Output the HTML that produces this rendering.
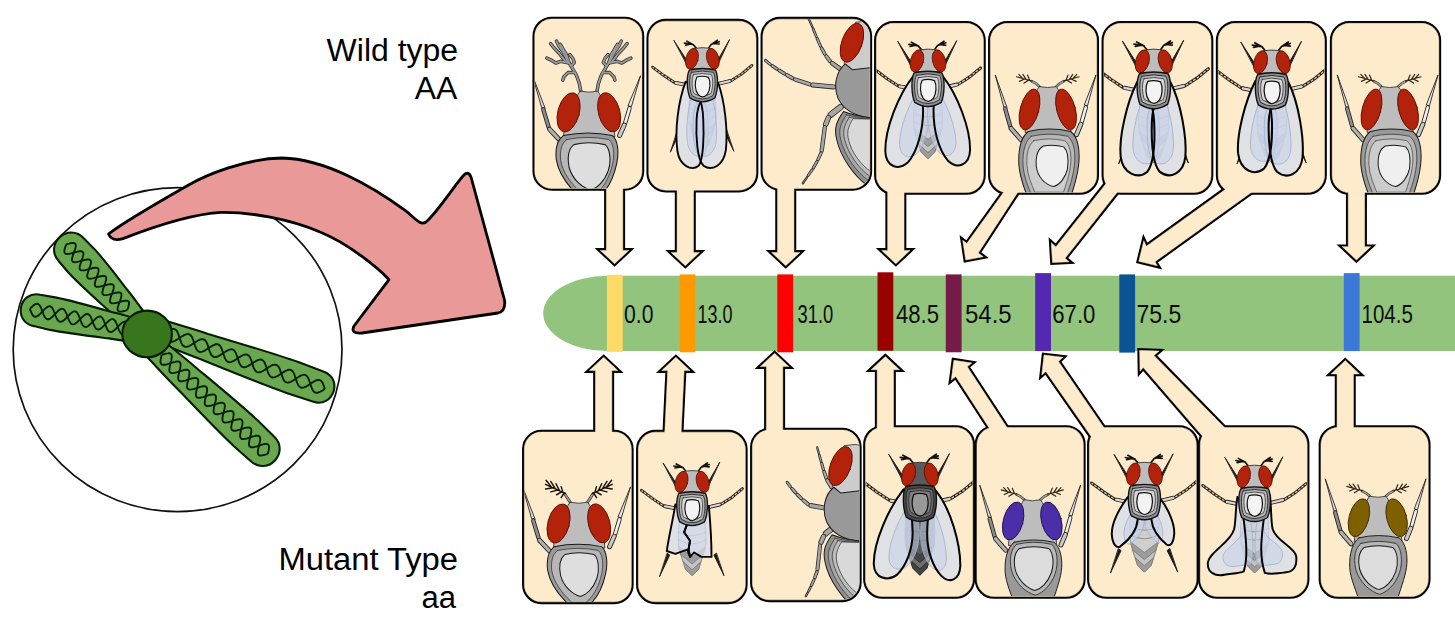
<!DOCTYPE html>
<html><head><meta charset="utf-8"><title>Chromosome map</title><style>html,body{margin:0;padding:0;background:#fff;overflow:hidden}svg{display:block}</style></head><body><svg width="1455" height="639" viewBox="0 0 1455 639">
<defs>
<clipPath id="c0"><path d="M551.75,19.15 L624.95,19.15 A16.8,16.8 0 0 1 641.75,35.95 L641.75,171.45 A16.8,16.8 0 0 1 624.95,188.25 L551.75,188.25 A16.8,16.8 0 0 1 534.95,171.45 L534.95,35.95 A16.8,16.8 0 0 1 551.75,19.15 Z"/></clipPath>
<clipPath id="c1"><path d="M665.75,21.35 L739.05,21.35 A16.8,16.8 0 0 1 755.85,38.15 L755.85,173.15 A16.8,16.8 0 0 1 739.05,189.95 L665.75,189.95 A16.8,16.8 0 0 1 648.95,173.15 L648.95,38.15 A16.8,16.8 0 0 1 665.75,21.35 Z"/></clipPath>
<clipPath id="c2"><path d="M779.85,19.35 L852.85,19.35 A16.8,16.8 0 0 1 869.65,36.15 L869.65,171.45 A16.8,16.8 0 0 1 852.85,188.25 L779.85,188.25 A16.8,16.8 0 0 1 763.05,171.45 L763.05,36.15 A16.8,16.8 0 0 1 779.85,19.35 Z"/></clipPath>
<clipPath id="c3"><path d="M893.35,23.55 L966.45,23.55 A16.8,16.8 0 0 1 983.25,40.35 L983.25,175.55 A16.8,16.8 0 0 1 966.45,192.35 L893.35,192.35 A16.8,16.8 0 0 1 876.55,175.55 L876.55,40.35 A16.8,16.8 0 0 1 893.35,23.55 Z"/></clipPath>
<clipPath id="c4"><path d="M1007.35,23.55 L1079.75,23.55 A16.8,16.8 0 0 1 1096.55,40.35 L1096.55,175.55 A16.8,16.8 0 0 1 1079.75,192.35 L1007.35,192.35 A16.8,16.8 0 0 1 990.55,175.55 L990.55,40.35 A16.8,16.8 0 0 1 1007.35,23.55 Z"/></clipPath>
<clipPath id="c5"><path d="M1120.85,23.55 L1194.05,23.55 A16.8,16.8 0 0 1 1210.85,40.35 L1210.85,175.55 A16.8,16.8 0 0 1 1194.05,192.35 L1120.85,192.35 A16.8,16.8 0 0 1 1104.05,175.55 L1104.05,40.35 A16.8,16.8 0 0 1 1120.85,23.55 Z"/></clipPath>
<clipPath id="c6"><path d="M1235.15,23.55 L1307.55,23.55 A16.8,16.8 0 0 1 1324.35,40.35 L1324.35,175.55 A16.8,16.8 0 0 1 1307.55,192.35 L1235.15,192.35 A16.8,16.8 0 0 1 1218.35,175.55 L1218.35,40.35 A16.8,16.8 0 0 1 1235.15,23.55 Z"/></clipPath>
<clipPath id="c7"><path d="M1349.15,23.55 L1421.85,23.55 A16.8,16.8 0 0 1 1438.65,40.35 L1438.65,175.55 A16.8,16.8 0 0 1 1421.85,192.35 L1349.15,192.35 A16.8,16.8 0 0 1 1332.35,175.55 L1332.35,40.35 A16.8,16.8 0 0 1 1349.15,23.55 Z"/></clipPath>
<clipPath id="c8"><path d="M541.35,432.25 L614.35,432.25 A16.8,16.8 0 0 1 631.15,449.05 L631.15,584.85 A16.8,16.8 0 0 1 614.35,601.65 L541.35,601.65 A16.8,16.8 0 0 1 524.55,584.85 L524.55,449.05 A16.8,16.8 0 0 1 541.35,432.25 Z"/></clipPath>
<clipPath id="c9"><path d="M655.35,432.35 L728.35,432.35 A16.8,16.8 0 0 1 745.15,449.15 L745.15,584.85 A16.8,16.8 0 0 1 728.35,601.65 L655.35,601.65 A16.8,16.8 0 0 1 638.55,584.85 L638.55,449.15 A16.8,16.8 0 0 1 655.35,432.35 Z"/></clipPath>
<clipPath id="c10"><path d="M769.35,430.25 L842.35,430.25 A16.8,16.8 0 0 1 859.15,447.05 L859.15,582.85 A16.8,16.8 0 0 1 842.35,599.65 L769.35,599.65 A16.8,16.8 0 0 1 752.55,582.85 L752.55,447.05 A16.8,16.8 0 0 1 769.35,430.25 Z"/></clipPath>
<clipPath id="c11"><path d="M882.45,427.65 L955.75,427.65 A16.8,16.8 0 0 1 972.55,444.45 L972.55,579.55 A16.8,16.8 0 0 1 955.75,596.35 L882.45,596.35 A16.8,16.8 0 0 1 865.65,579.55 L865.65,444.45 A16.8,16.8 0 0 1 882.45,427.65 Z"/></clipPath>
<clipPath id="c12"><path d="M993.95,427.65 L1066.35,427.65 A16.8,16.8 0 0 1 1083.15,444.45 L1083.15,579.55 A16.8,16.8 0 0 1 1066.35,596.35 L993.95,596.35 A16.8,16.8 0 0 1 977.15,579.55 L977.15,444.45 A16.8,16.8 0 0 1 993.95,427.65 Z"/></clipPath>
<clipPath id="c13"><path d="M1106.35,427.65 L1179.35,427.65 A16.8,16.8 0 0 1 1196.15,444.45 L1196.15,579.55 A16.8,16.8 0 0 1 1179.35,596.35 L1106.35,596.35 A16.8,16.8 0 0 1 1089.55,579.55 L1089.55,444.45 A16.8,16.8 0 0 1 1106.35,427.65 Z"/></clipPath>
<clipPath id="c14"><path d="M1217.25,427.65 L1290.15,427.65 A16.8,16.8 0 0 1 1306.95,444.45 L1306.95,579.55 A16.8,16.8 0 0 1 1290.15,596.35 L1217.25,596.35 A16.8,16.8 0 0 1 1200.45,579.55 L1200.45,444.45 A16.8,16.8 0 0 1 1217.25,427.65 Z"/></clipPath>
<clipPath id="c15"><path d="M1337.95,427.65 L1411.25,427.65 A16.8,16.8 0 0 1 1428.05,444.45 L1428.05,579.55 A16.8,16.8 0 0 1 1411.25,596.35 L1337.95,596.35 A16.8,16.8 0 0 1 1321.15,579.55 L1321.15,444.45 A16.8,16.8 0 0 1 1337.95,427.65 Z"/></clipPath>
</defs>
<ellipse cx="177.6" cy="349.6" rx="164.4" ry="162" fill="#fff" stroke="#111" stroke-width="1.7"/>
<g stroke="#081c04" stroke-width="2.1" fill="#6aa84f" stroke-linejoin="round">
<path d="M146.1,314.5 C138.8,305.3 133.3,296.9 127.0,289.5 C116.2,275.4 104.3,259.7 94.3,248.9 L84.0,238.5 C68.3,221.5 43.4,244.5 59.0,261.5 L68.6,272.7 C78.6,283.5 93.3,296.6 106.4,308.5 C113.4,315.4 121.3,321.4 129.9,329.5 Z"/>
<path d="M148.2,321.8 C135.2,318.5 124.6,315.2 113.8,312.6 C94.4,307.1 73.0,300.9 56.6,297.6 L40.2,294.7 C18.9,290.4 12.5,321.7 33.8,326.1 L50.1,329.9 C66.4,333.2 88.6,335.9 108.5,338.4 C119.5,340.3 130.6,341.4 143.8,343.4 Z"/>
<path d="M146.4,337.9 C166.3,345.6 182.7,352.6 199.4,358.8 C229.1,370.9 262.1,384.4 287.3,393.2 L312.7,401.6 C333.2,408.8 343.9,378.6 323.3,371.4 L298.3,362.1 C273.1,353.2 238.9,343.1 208.1,333.9 C191.2,328.4 174.0,323.6 153.6,317.1 Z"/>
<path d="M142.5,352.0 C155.3,365.3 165.4,376.9 176.4,387.7 C195.5,407.7 216.6,430.0 233.4,445.7 L250.6,461.0 C267.5,476.8 290.7,451.9 273.8,436.2 L257.3,420.1 C240.5,404.4 216.7,384.9 195.5,367.2 C183.9,357.1 171.6,347.8 157.5,336.0 Z"/>
</g>
<g stroke="#08200a" stroke-width="1.9" fill="none">
<path d="M127.1,310.2 L127.7,308.8 L128.2,307.4 L128.6,306.1 L128.9,304.8 L129.0,303.7 L129.0,302.8 L128.9,302.0 L128.5,301.4 L127.9,301.0 L127.1,300.7 L126.2,300.6 L125.1,300.7 L123.8,300.9 L122.5,301.2 L121.0,301.6 L119.5,302.0 L118.1,302.4 L116.6,302.8 L115.3,303.1 L114.0,303.3 L112.9,303.4 L111.9,303.3 L111.2,303.1 L110.6,302.6 L110.2,302.0 L110.0,301.2 L110.0,300.3 L110.2,299.2 L110.5,298.0 L110.9,296.6 L111.4,295.2 L111.9,293.8 L112.5,292.3 L112.9,290.9 L113.4,289.6 L113.7,288.4 L113.8,287.2 L113.8,286.3 L113.6,285.5 L113.3,284.9 L112.7,284.5 L111.9,284.2 L111.0,284.2 L109.9,284.2 L108.6,284.4 L107.2,284.7 L105.8,285.1 L104.3,285.5 L102.8,285.9 L101.4,286.3 L100.0,286.6 L98.8,286.8 L97.7,286.9 L96.7,286.8 L95.9,286.6 L95.4,286.2 L95.0,285.6 L94.8,284.8 L94.8,283.8 L95.0,282.7 L95.3,281.5 L95.7,280.1 L96.2,278.7 L96.7,277.3 L97.2,275.9 L97.7,274.4 L98.1,273.1 L98.4,271.9 L98.6,270.8 L98.6,269.8 L98.4,269.0 L98.0,268.4 L97.5,268.0 L96.7,267.8 L95.8,267.7 L94.6,267.8 L93.4,268.0 L92.0,268.3 L90.6,268.6 L89.1,269.1 L87.6,269.5 L86.2,269.8 L84.8,270.2 L83.6,270.4 L82.4,270.4 L81.5,270.4 L80.7,270.1 L80.2,269.7 L79.8,269.1 L79.6,268.3 L79.6,267.3 L79.8,266.2 L80.1,265.0 L80.5,263.7 L81.0,262.3 L81.5,260.8 L82.0,259.4 L82.5,258.0 L82.9,256.6 L83.2,255.4 L83.4,254.3 L83.4,253.3 L83.2,252.6 L82.8,252.0 L82.3,251.5 L81.5,251.3 L80.5,251.2 L79.4,251.3 L78.2,251.5 L76.8,251.8 L75.4,252.2 L73.9,252.6 L72.4,253.0 L71.0,253.4 L69.6,253.7 L68.3,253.9 L67.2,254.0 L66.3,253.9 L65.5,253.6 L64.9,253.2 L64.6,252.6 L64.4,251.8 L64.4,250.9 L64.5,249.8 L64.8,248.5 L65.3,247.2 L65.7,245.8 L66.3,244.3"/>
<path d="M127.1,310.2 L125.7,310.7 L124.2,311.0 L122.9,311.3 L121.6,311.5 L120.5,311.6 L119.5,311.5 L118.8,311.3 L118.2,310.9 L117.8,310.3 L117.6,309.5 L117.6,308.5 L117.8,307.4 L118.1,306.2 L118.5,304.9 L119.0,303.4 L119.5,302.0 L120.1,300.6 L120.6,299.2 L121.0,297.8 L121.3,296.6 L121.4,295.5 L121.4,294.5 L121.3,293.7 L120.9,293.1 L120.3,292.7 L119.5,292.5 L118.6,292.4 L117.5,292.5 L116.2,292.7 L114.8,293.0 L113.4,293.4 L111.9,293.8 L110.4,294.2 L109.0,294.6 L107.6,294.9 L106.4,295.1 L105.3,295.1 L104.3,295.1 L103.6,294.8 L103.0,294.4 L102.6,293.8 L102.4,293.0 L102.4,292.1 L102.6,291.0 L102.9,289.7 L103.3,288.4 L103.8,287.0 L104.3,285.5 L104.8,284.1 L105.3,282.7 L105.7,281.3 L106.1,280.1 L106.2,279.0 L106.2,278.1 L106.0,277.3 L105.7,276.7 L105.1,276.2 L104.3,276.0 L103.4,275.9 L102.2,276.0 L101.0,276.2 L99.6,276.5 L98.2,276.9 L96.7,277.3 L95.2,277.7 L93.8,278.1 L92.4,278.4 L91.2,278.6 L90.1,278.7 L89.1,278.6 L88.3,278.3 L87.8,277.9 L87.4,277.3 L87.2,276.5 L87.2,275.6 L87.4,274.5 L87.7,273.2 L88.1,271.9 L88.6,270.5 L89.1,269.1 L89.6,267.6 L90.1,266.2 L90.5,264.9 L90.8,263.6 L91.0,262.5 L91.0,261.6 L90.8,260.8 L90.4,260.2 L89.9,259.8 L89.1,259.5 L88.1,259.4 L87.0,259.5 L85.8,259.7 L84.4,260.0 L83.0,260.4 L81.5,260.8 L80.0,261.2 L78.6,261.6 L77.2,261.9 L76.0,262.1 L74.8,262.2 L73.9,262.1 L73.1,261.9 L72.5,261.4 L72.2,260.8 L72.0,260.1 L72.0,259.1 L72.2,258.0 L72.5,256.8 L72.9,255.4 L73.4,254.0 L73.9,252.6 L74.4,251.1 L74.9,249.7 L75.3,248.4 L75.6,247.2 L75.8,246.1 L75.8,245.1 L75.6,244.3 L75.2,243.7 L74.6,243.3 L73.9,243.0 L72.9,243.0 L71.8,243.0 L70.6,243.2 L69.2,243.6 L67.8,243.9 L66.3,244.3"/>
<path d="M130.3,329.4 L129.8,328.0 L129.3,326.6 L128.7,325.3 L128.1,324.2 L127.5,323.2 L126.8,322.5 L126.1,321.9 L125.4,321.7 L124.6,321.6 L123.7,321.8 L122.8,322.3 L121.8,322.9 L120.9,323.7 L119.8,324.7 L118.8,325.7 L117.8,326.8 L116.7,328.0 L115.7,329.0 L114.7,330.0 L113.7,330.8 L112.7,331.4 L111.8,331.9 L111.0,332.1 L110.2,332.0 L109.4,331.8 L108.7,331.2 L108.0,330.5 L107.4,329.5 L106.8,328.4 L106.3,327.1 L105.7,325.7 L105.2,324.3 L104.7,322.9 L104.1,321.5 L103.6,320.2 L103.0,319.1 L102.4,318.1 L101.7,317.4 L101.0,316.8 L100.3,316.5 L99.4,316.5 L98.6,316.7 L97.7,317.2 L96.7,317.8 L95.7,318.6 L94.7,319.6 L93.7,320.6 L92.7,321.7 L91.6,322.8 L90.6,323.9 L89.6,324.8 L88.6,325.7 L87.6,326.3 L86.7,326.8 L85.9,327.0 L85.1,326.9 L84.3,326.6 L83.6,326.1 L82.9,325.4 L82.3,324.4 L81.7,323.3 L81.2,322.0 L80.6,320.6 L80.1,319.2 L79.6,317.8 L79.0,316.4 L78.5,315.1 L77.9,314.0 L77.3,313.0 L76.6,312.2 L75.9,311.7 L75.1,311.4 L74.3,311.4 L73.5,311.6 L72.6,312.0 L71.6,312.7 L70.6,313.5 L69.6,314.5 L68.6,315.5 L67.5,316.6 L66.5,317.7 L65.5,318.8 L64.5,319.7 L63.5,320.6 L62.5,321.2 L61.6,321.6 L60.8,321.8 L60.0,321.8 L59.2,321.5 L58.5,321.0 L57.8,320.2 L57.2,319.3 L56.6,318.1 L56.1,316.9 L55.5,315.5 L55.0,314.1 L54.5,312.6 L53.9,311.3 L53.4,310.0 L52.8,308.9 L52.2,307.9 L51.5,307.1 L50.8,306.6 L50.0,306.3 L49.2,306.3 L48.4,306.5 L47.5,306.9 L46.5,307.6 L45.5,308.4 L44.5,309.4 L43.5,310.4 L42.4,311.5 L41.4,312.6 L40.4,313.7 L39.4,314.6 L38.4,315.4 L37.4,316.1 L36.5,316.5 L35.7,316.7 L34.8,316.7 L34.1,316.4 L33.4,315.9 L32.7,315.1 L32.1,314.2 L31.5,313.0 L31.0,311.7 L30.4,310.4 L29.9,309.0"/>
<path d="M130.3,329.4 L129.3,330.5 L128.2,331.6 L127.2,332.5 L126.3,333.3 L125.3,334.0 L124.4,334.4 L123.5,334.6 L122.7,334.6 L122.0,334.3 L121.3,333.8 L120.6,333.0 L120.0,332.1 L119.4,330.9 L118.8,329.6 L118.3,328.3 L117.8,326.8 L117.2,325.4 L116.7,324.1 L116.1,322.8 L115.6,321.6 L114.9,320.7 L114.3,319.9 L113.6,319.4 L112.8,319.1 L112.0,319.1 L111.1,319.3 L110.2,319.7 L109.3,320.4 L108.3,321.2 L107.3,322.1 L106.3,323.2 L105.2,324.3 L104.2,325.4 L103.1,326.4 L102.1,327.4 L101.1,328.2 L100.2,328.9 L99.3,329.3 L98.4,329.5 L97.6,329.5 L96.9,329.2 L96.1,328.7 L95.5,327.9 L94.9,326.9 L94.3,325.8 L93.7,324.5 L93.2,323.2 L92.7,321.7 L92.1,320.3 L91.6,318.9 L91.0,317.7 L90.5,316.5 L89.8,315.6 L89.2,314.8 L88.5,314.3 L87.7,314.0 L86.9,314.0 L86.0,314.2 L85.1,314.6 L84.2,315.2 L83.2,316.1 L82.2,317.0 L81.1,318.1 L80.1,319.2 L79.1,320.3 L78.0,321.3 L77.0,322.3 L76.0,323.1 L75.1,323.8 L74.2,324.2 L73.3,324.4 L72.5,324.4 L71.8,324.1 L71.0,323.6 L70.4,322.8 L69.8,321.8 L69.2,320.7 L68.6,319.4 L68.1,318.0 L67.5,316.6 L67.0,315.2 L66.5,313.8 L65.9,312.5 L65.3,311.4 L64.7,310.4 L64.1,309.7 L63.3,309.2 L62.6,308.9 L61.8,308.8 L60.9,309.0 L60.0,309.5 L59.1,310.1 L58.1,311.0 L57.1,311.9 L56.0,313.0 L55.0,314.1 L54.0,315.2 L52.9,316.2 L51.9,317.2 L50.9,318.0 L50.0,318.6 L49.1,319.1 L48.2,319.3 L47.4,319.3 L46.6,319.0 L45.9,318.4 L45.3,317.7 L44.6,316.7 L44.1,315.6 L43.5,314.3 L43.0,312.9 L42.4,311.5 L41.9,310.1 L41.4,308.7 L40.8,307.4 L40.2,306.3 L39.6,305.3 L38.9,304.6 L38.2,304.0 L37.5,303.8 L36.7,303.7 L35.8,303.9 L34.9,304.4 L34.0,305.0 L33.0,305.8 L32.0,306.8 L30.9,307.8 L29.9,309.0"/>
<path d="M165.1,332.8 L165.6,334.3 L166.1,335.8 L166.6,337.2 L167.2,338.5 L167.8,339.6 L168.5,340.5 L169.3,341.1 L170.2,341.6 L171.1,341.8 L172.2,341.7 L173.3,341.5 L174.4,341.0 L175.7,340.4 L177.0,339.6 L178.3,338.8 L179.6,337.9 L181.0,337.0 L182.3,336.2 L183.6,335.4 L184.8,334.8 L186.0,334.3 L187.1,334.1 L188.1,334.0 L189.1,334.2 L189.9,334.7 L190.7,335.3 L191.4,336.2 L192.1,337.3 L192.6,338.6 L193.2,340.0 L193.7,341.5 L194.1,343.0 L194.6,344.5 L195.1,346.0 L195.7,347.4 L196.2,348.7 L196.9,349.8 L197.6,350.7 L198.4,351.3 L199.2,351.8 L200.2,352.0 L201.2,351.9 L202.3,351.7 L203.5,351.2 L204.7,350.6 L206.0,349.8 L207.3,349.0 L208.7,348.1 L210.0,347.2 L211.3,346.4 L212.6,345.6 L213.8,345.0 L215.0,344.5 L216.1,344.3 L217.2,344.2 L218.1,344.4 L219.0,344.9 L219.8,345.5 L220.5,346.4 L221.1,347.5 L221.7,348.8 L222.2,350.2 L222.7,351.7 L223.2,353.2 L223.7,354.7 L224.2,356.2 L224.7,357.6 L225.3,358.9 L225.9,360.0 L226.6,360.9 L227.4,361.5 L228.3,362.0 L229.2,362.2 L230.2,362.1 L231.4,361.9 L232.5,361.4 L233.8,360.8 L235.1,360.0 L236.4,359.2 L237.7,358.3 L239.0,357.4 L240.4,356.6 L241.6,355.8 L242.9,355.2 L244.1,354.7 L245.2,354.5 L246.2,354.4 L247.2,354.6 L248.0,355.1 L248.8,355.7 L249.5,356.6 L250.2,357.7 L250.7,359.0 L251.3,360.4 L251.8,361.9 L252.2,363.4 L252.7,364.9 L253.2,366.4 L253.7,367.8 L254.3,369.1 L255.0,370.2 L255.7,371.1 L256.4,371.7 L257.3,372.2 L258.3,372.4 L259.3,372.3 L260.4,372.1 L261.6,371.6 L262.8,371.0 L264.1,370.2 L265.4,369.4 L266.8,368.5 L268.1,367.6 L269.4,366.8 L270.7,366.0 L271.9,365.4 L273.1,364.9 L274.2,364.7 L275.3,364.6 L276.2,364.8 L277.1,365.3 L277.9,365.9 L278.6,366.8 L279.2,367.9 L279.8,369.2 L280.3,370.6 L280.8,372.1 L281.3,373.6 L281.8,375.1 L282.3,376.6 L282.8,378.0 L283.4,379.3 L284.0,380.4 L284.7,381.3 L285.5,381.9 L286.4,382.4 L287.3,382.6 L288.3,382.5 L289.4,382.3 L290.6,381.8 L291.9,381.2 L293.2,380.5 L294.5,379.6 L295.8,378.7 L297.1,377.8 L298.5,377.0 L299.7,376.2 L301.0,375.6 L302.2,375.1 L303.3,374.9 L304.3,374.8 L305.3,375.0 L306.1,375.5 L306.9,376.1 L307.6,377.0 L308.2,378.1 L308.8,379.4 L309.3,380.8 L309.8,382.3 L310.3,383.8 L310.8,385.3 L311.3,386.8 L311.8,388.2 L312.4,389.5 L313.0,390.6 L313.8,391.5 L314.5,392.1 L315.4,392.6 L316.4,392.8 L317.4,392.7 L318.5,392.5 L319.7,392.0 L320.9,391.4 L322.2,390.7 L323.5,389.8 L324.8,388.9"/>
<path d="M165.1,332.8 L166.4,331.9 L167.7,331.1 L169.0,330.3 L170.3,329.7 L171.5,329.2 L172.6,329.0 L173.6,328.9 L174.5,329.1 L175.4,329.6 L176.2,330.2 L176.9,331.1 L177.5,332.2 L178.1,333.5 L178.6,334.9 L179.1,336.4 L179.6,337.9 L180.1,339.4 L180.6,340.9 L181.1,342.3 L181.7,343.6 L182.3,344.7 L183.0,345.6 L183.8,346.2 L184.7,346.7 L185.6,346.9 L186.7,346.8 L187.8,346.6 L189.0,346.1 L190.2,345.5 L191.5,344.7 L192.8,343.9 L194.1,343.0 L195.5,342.1 L196.8,341.3 L198.1,340.5 L199.3,339.9 L200.5,339.4 L201.6,339.2 L202.6,339.1 L203.6,339.3 L204.5,339.8 L205.2,340.4 L205.9,341.3 L206.6,342.4 L207.2,343.7 L207.7,345.1 L208.2,346.6 L208.7,348.1 L209.1,349.6 L209.6,351.1 L210.2,352.5 L210.7,353.8 L211.4,354.9 L212.1,355.8 L212.9,356.4 L213.7,356.9 L214.7,357.1 L215.7,357.0 L216.8,356.8 L218.0,356.3 L219.3,355.7 L220.5,354.9 L221.9,354.1 L223.2,353.2 L224.5,352.3 L225.8,351.5 L227.1,350.7 L228.4,350.1 L229.5,349.6 L230.7,349.4 L231.7,349.3 L232.6,349.5 L233.5,350.0 L234.3,350.6 L235.0,351.5 L235.6,352.6 L236.2,353.9 L236.7,355.3 L237.2,356.8 L237.7,358.3 L238.2,359.8 L238.7,361.3 L239.2,362.7 L239.8,364.0 L240.4,365.1 L241.1,366.0 L241.9,366.6 L242.8,367.1 L243.7,367.3 L244.8,367.2 L245.9,367.0 L247.1,366.5 L248.3,365.9 L249.6,365.1 L250.9,364.3 L252.2,363.4 L253.6,362.5 L254.9,361.7 L256.2,360.9 L257.4,360.3 L258.6,359.8 L259.7,359.6 L260.7,359.5 L261.7,359.7 L262.5,360.2 L263.3,360.8 L264.0,361.7 L264.7,362.8 L265.2,364.1 L265.8,365.5 L266.3,367.0 L266.8,368.5 L267.2,370.0 L267.7,371.5 L268.3,372.9 L268.8,374.2 L269.5,375.3 L270.2,376.2 L271.0,376.8 L271.8,377.3 L272.8,377.5 L273.8,377.4 L274.9,377.2 L276.1,376.7 L277.3,376.1 L278.6,375.4 L279.9,374.5 L281.3,373.6 L282.6,372.7 L283.9,371.9 L285.2,371.1 L286.5,370.5 L287.6,370.0 L288.7,369.8 L289.8,369.7 L290.7,369.9 L291.6,370.4 L292.4,371.0 L293.1,371.9 L293.7,373.0 L294.3,374.3 L294.8,375.7 L295.3,377.2 L295.8,378.7 L296.3,380.2 L296.8,381.7 L297.3,383.1 L297.9,384.4 L298.5,385.5 L299.2,386.4 L300.0,387.0 L300.9,387.5 L301.8,387.7 L302.9,387.6 L304.0,387.4 L305.1,386.9 L306.4,386.3 L307.7,385.6 L309.0,384.7 L310.3,383.8 L311.7,382.9 L313.0,382.1 L314.3,381.3 L315.5,380.7 L316.7,380.2 L317.8,380.0 L318.8,379.9 L319.8,380.1 L320.6,380.6 L321.4,381.2 L322.1,382.1 L322.8,383.2 L323.3,384.5 L323.9,385.9 L324.4,387.4 L324.8,388.9"/>
<path d="M161.7,354.9 L161.3,356.4 L161.0,357.9 L160.7,359.3 L160.5,360.6 L160.5,361.7 L160.6,362.7 L160.9,363.5 L161.4,364.2 L162.0,364.6 L162.8,364.8 L163.8,364.8 L165.0,364.7 L166.2,364.5 L167.6,364.1 L169.1,363.6 L170.5,363.2 L172.0,362.7 L173.5,362.2 L174.9,361.9 L176.1,361.6 L177.3,361.5 L178.3,361.5 L179.1,361.7 L179.7,362.2 L180.2,362.8 L180.5,363.6 L180.6,364.6 L180.6,365.7 L180.4,367.0 L180.1,368.4 L179.8,369.9 L179.4,371.4 L179.0,372.9 L178.7,374.4 L178.4,375.8 L178.2,377.1 L178.2,378.2 L178.3,379.2 L178.6,380.0 L179.0,380.6 L179.7,381.1 L180.5,381.3 L181.5,381.3 L182.6,381.2 L183.9,380.9 L185.3,380.6 L186.8,380.1 L188.2,379.6 L189.7,379.2 L191.2,378.7 L192.5,378.3 L193.8,378.1 L195.0,378.0 L196.0,378.0 L196.8,378.2 L197.4,378.6 L197.9,379.3 L198.2,380.1 L198.3,381.1 L198.2,382.2 L198.1,383.5 L197.8,384.9 L197.5,386.4 L197.1,387.9 L196.7,389.4 L196.4,390.9 L196.1,392.3 L195.9,393.6 L195.9,394.7 L196.0,395.7 L196.3,396.5 L196.7,397.1 L197.4,397.6 L198.2,397.8 L199.2,397.8 L200.3,397.7 L201.6,397.4 L203.0,397.1 L204.4,396.6 L205.9,396.1 L207.4,395.7 L208.9,395.2 L210.2,394.8 L211.5,394.6 L212.7,394.5 L213.7,394.5 L214.5,394.7 L215.1,395.1 L215.6,395.8 L215.9,396.6 L216.0,397.5 L215.9,398.7 L215.8,400.0 L215.5,401.4 L215.1,402.9 L214.8,404.4 L214.4,405.9 L214.0,407.4 L213.8,408.8 L213.6,410.1 L213.6,411.2 L213.7,412.2 L214.0,413.0 L214.4,413.6 L215.1,414.0 L215.9,414.3 L216.9,414.3 L218.0,414.2 L219.3,413.9 L220.7,413.6 L222.1,413.1 L223.6,412.6 L225.1,412.1 L226.5,411.7 L227.9,411.3 L229.2,411.1 L230.3,410.9 L231.3,411.0 L232.2,411.2 L232.8,411.6 L233.3,412.2 L233.5,413.0 L233.7,414.0 L233.6,415.2 L233.4,416.5 L233.2,417.9 L232.8,419.4 L232.5,420.9 L232.1,422.4 L231.7,423.9 L231.5,425.3 L231.3,426.6 L231.3,427.7 L231.4,428.7 L231.6,429.5 L232.1,430.1 L232.7,430.5 L233.6,430.8 L234.6,430.8 L235.7,430.7 L237.0,430.4 L238.4,430.0 L239.8,429.6 L241.3,429.1 L242.8,428.6 L244.2,428.2 L245.6,427.8 L246.9,427.6 L248.0,427.4 L249.0,427.5 L249.9,427.7 L250.5,428.1 L251.0,428.7 L251.2,429.5 L251.3,430.5 L251.3,431.7 L251.1,433.0 L250.9,434.4 L250.5,435.8 L250.1,437.4 L249.8,438.9 L249.4,440.4 L249.2,441.8 L249.0,443.0 L248.9,444.2 L249.1,445.2 L249.3,446.0 L249.8,446.6 L250.4,447.0 L251.3,447.2 L252.3,447.3 L253.4,447.2 L254.7,446.9 L256.1,446.5 L257.5,446.1 L259.0,445.6 L260.5,445.1 L261.9,444.7 L263.3,444.3 L264.6,444.0 L265.7,443.9 L266.7,444.0 L267.5,444.2 L268.2,444.6 L268.6,445.2 L268.9,446.0 L269.0,447.0 L269.0,448.2 L268.8,449.5 L268.6,450.9 L268.2,452.3 L267.8,453.9"/>
<path d="M161.7,354.9 L163.2,354.4 L164.6,354.0 L166.0,353.6 L167.3,353.4 L168.4,353.2 L169.4,353.3 L170.3,353.5 L170.9,353.9 L171.4,354.5 L171.6,355.3 L171.8,356.3 L171.7,357.5 L171.5,358.8 L171.3,360.2 L170.9,361.6 L170.5,363.2 L170.2,364.7 L169.8,366.1 L169.6,367.5 L169.4,368.8 L169.3,370.0 L169.5,371.0 L169.7,371.8 L170.2,372.4 L170.8,372.8 L171.7,373.0 L172.7,373.1 L173.8,373.0 L175.1,372.7 L176.5,372.3 L177.9,371.9 L179.4,371.4 L180.9,370.9 L182.3,370.5 L183.7,370.1 L185.0,369.8 L186.1,369.7 L187.1,369.8 L187.9,370.0 L188.6,370.4 L189.0,371.0 L189.3,371.8 L189.4,372.8 L189.4,374.0 L189.2,375.3 L189.0,376.7 L188.6,378.1 L188.2,379.6 L187.9,381.2 L187.5,382.6 L187.2,384.0 L187.1,385.3 L187.0,386.5 L187.1,387.5 L187.4,388.3 L187.9,388.9 L188.5,389.3 L189.4,389.5 L190.3,389.6 L191.5,389.4 L192.8,389.2 L194.1,388.8 L195.6,388.4 L197.1,387.9 L198.6,387.4 L200.0,387.0 L201.4,386.6 L202.7,386.3 L203.8,386.2 L204.8,386.3 L205.6,386.5 L206.3,386.9 L206.7,387.5 L207.0,388.3 L207.1,389.3 L207.1,390.5 L206.9,391.7 L206.6,393.1 L206.3,394.6 L205.9,396.1 L205.5,397.6 L205.2,399.1 L204.9,400.5 L204.8,401.8 L204.7,403.0 L204.8,404.0 L205.1,404.8 L205.6,405.4 L206.2,405.8 L207.0,406.0 L208.0,406.1 L209.2,405.9 L210.5,405.7 L211.8,405.3 L213.3,404.9 L214.8,404.4 L216.3,403.9 L217.7,403.5 L219.1,403.1 L220.4,402.8 L221.5,402.7 L222.5,402.7 L223.3,403.0 L224.0,403.4 L224.4,404.0 L224.7,404.8 L224.8,405.8 L224.8,406.9 L224.6,408.2 L224.3,409.6 L224.0,411.1 L223.6,412.6 L223.2,414.1 L222.9,415.6 L222.6,417.0 L222.4,418.3 L222.4,419.5 L222.5,420.4 L222.8,421.3 L223.3,421.9 L223.9,422.3 L224.7,422.5 L225.7,422.6 L226.9,422.4 L228.1,422.2 L229.5,421.8 L231.0,421.4 L232.5,420.9 L233.9,420.4 L235.4,419.9 L236.8,419.6 L238.0,419.3 L239.2,419.2 L240.2,419.2 L241.0,419.5 L241.7,419.9 L242.1,420.5 L242.4,421.3 L242.5,422.3 L242.5,423.4 L242.3,424.7 L242.0,426.1 L241.7,427.6 L241.3,429.1 L240.9,430.6 L240.6,432.1 L240.3,433.5 L240.1,434.8 L240.1,435.9 L240.2,436.9 L240.5,437.7 L240.9,438.4 L241.6,438.8 L242.4,439.0 L243.4,439.0 L244.6,438.9 L245.8,438.7 L247.2,438.3 L248.7,437.8 L250.1,437.4 L251.6,436.9 L253.1,436.4 L254.5,436.1 L255.7,435.8 L256.9,435.7 L257.9,435.7 L258.7,435.9 L259.3,436.4 L259.8,437.0 L260.1,437.8 L260.2,438.8 L260.2,439.9 L260.0,441.2 L259.7,442.6 L259.4,444.1 L259.0,445.6 L258.6,447.1 L258.3,448.6 L258.0,450.0 L257.8,451.3 L257.8,452.4 L257.9,453.4 L258.2,454.2 L258.6,454.8 L259.3,455.3 L260.1,455.5 L261.1,455.5 L262.2,455.4 L263.5,455.1 L264.9,454.8 L266.3,454.3 L267.8,453.9"/>
</g>
<ellipse cx="147.1" cy="333.9" rx="24.8" ry="23.3" fill="#38761d" stroke="#081c04" stroke-width="2.1"/>
<path d="M108.5,234 C120,225 150,207 188.6,185 C205,175.5 245,158.5 282,158 C325,159 372,186 405.5,210.7 C415,218 420,226 426,222 C436,214 455,185 463,176 Q468,170 471,177 L504.5,300 Q506,311 498,313 L362,333 Q350,334 354,326 L389,279.7 C380,270 350,244 320,232 C290,219 250,212 221.5,212.3 C190,214 150,228 122.9,238.6 Q112,242 108.5,234 Z" fill="#ea9999" stroke="#000" stroke-width="2.8" stroke-linejoin="round"/>
<g font-family="Liberation Sans, sans-serif" font-size="31" fill="#000">
<text x="326.6" y="61.2" textLength="131.5" lengthAdjust="spacingAndGlyphs">Wild type</text>
<text x="414.8" y="99.2" textLength="42.6" lengthAdjust="spacingAndGlyphs">AA</text>
<text x="278.4" y="569.7" textLength="179.6" lengthAdjust="spacingAndGlyphs">Mutant Type</text>
<text x="421.4" y="607.6" textLength="34.6" lengthAdjust="spacingAndGlyphs">aa</text>
</g>
<path d="M1455,275.8 L607.5,275.8 A64.3,37.65 0 0 0 607.5,351.1 L1455,351.1 Z" fill="#93c47d"/>
<rect x="606.9" y="274.8" width="15.8" height="77.1" fill="#ffd966"/>
<rect x="679.7" y="274.4" width="15.8" height="77.9" fill="#ff9900"/>
<rect x="777.3" y="274.4" width="15.8" height="77.9" fill="#ff0000"/>
<rect x="877.5" y="272.3" width="15.8" height="78.4" fill="#990000"/>
<rect x="945.8" y="274.4" width="15.8" height="77.9" fill="#741b47"/>
<rect x="1035.2" y="273.1" width="15.8" height="78.0" fill="#5428b0"/>
<rect x="1119.3" y="274.4" width="15.8" height="78.2" fill="#0b5394"/>
<rect x="1343.8" y="273.1" width="15.8" height="78.0" fill="#3c78d8"/>
<g font-family="Liberation Sans, sans-serif" font-size="26" fill="#0c0c0c">
<text x="624" y="323.4" textLength="29.4" lengthAdjust="spacingAndGlyphs">0.0</text>
<text x="697.4" y="323.4" textLength="35.0" lengthAdjust="spacingAndGlyphs">13.0</text>
<text x="797.5" y="323.4" textLength="35.8" lengthAdjust="spacingAndGlyphs">31.0</text>
<text x="895.9" y="323.4" textLength="43.1" lengthAdjust="spacingAndGlyphs">48.5</text>
<text x="965" y="323.4" textLength="46.6" lengthAdjust="spacingAndGlyphs">54.5</text>
<text x="1052.3" y="323.4" textLength="43.1" lengthAdjust="spacingAndGlyphs">67.0</text>
<text x="1136.5" y="323.4" textLength="44.8" lengthAdjust="spacingAndGlyphs">75.5</text>
<text x="1361.5" y="323.4" textLength="51.3" lengthAdjust="spacingAndGlyphs">104.5</text>
</g>
<g stroke="#000" stroke-width="4.6" stroke-linejoin="miter" stroke-miterlimit="10" fill="#000">
<path d="M606.40,180.00 L606.40,250.40 L600.40,250.40 L614.60,263.70 L628.80,250.40 L622.80,250.40 L622.80,180.00 Z"/>
<path d="M677.10,180.00 L677.10,252.40 L671.10,252.40 L685.30,265.70 L699.50,252.40 L693.50,252.40 L693.50,180.00 Z"/>
<path d="M777.55,180.00 L777.55,252.40 L771.55,252.40 L785.75,265.70 L799.95,252.40 L793.95,252.40 L793.95,180.00 Z"/>
<path d="M887.65,185.00 L887.65,250.40 L881.65,250.40 L895.85,263.70 L910.05,250.40 L904.05,250.40 L904.05,185.00 Z"/>
<path d="M1006.90,187.69 L966.77,243.48 L962.73,240.34 L965.72,260.08 L983.25,256.64 L978.29,252.96 L1018.42,191.29 Z"/>
<path d="M1106.53,183.04 L1055.86,246.98 L1051.25,242.69 L1052.46,262.59 L1069.20,261.79 L1064.99,258.35 L1118.60,190.59 Z"/>
<path d="M1235.28,182.23 L1146.37,246.20 L1143.85,240.68 L1138.78,261.31 L1157.42,265.84 L1154.92,261.78 L1253.99,190.48 Z"/>
<path d="M1348.25,185.00 L1348.25,246.70 L1342.25,246.70 L1356.45,260.00 L1370.65,246.70 L1364.65,246.70 L1364.65,185.00 Z"/>
<path d="M595.45,440.00 L595.45,370.60 L589.45,370.60 L603.65,357.30 L617.85,370.60 L611.85,370.60 L611.85,440.00 Z"/>
<path d="M664.75,433.00 L667.70,370.60 L661.70,370.60 L675.90,357.30 L690.10,370.60 L684.10,370.60 L681.15,433.00 Z"/>
<path d="M766.40,440.00 L766.40,366.60 L760.40,366.60 L774.60,353.30 L788.80,366.60 L782.80,366.60 L782.80,440.00 Z"/>
<path d="M877.15,440.00 L877.15,369.80 L871.15,369.80 L885.35,356.50 L899.55,369.80 L893.55,369.80 L893.55,440.00 Z"/>
<path d="M993.93,435.21 L955.72,376.38 L951.25,380.09 L953.87,360.23 L971.84,363.00 L967.26,366.85 L1008.49,429.84 Z"/>
<path d="M1095.26,442.35 L1045.83,371.49 L1041.75,375.01 L1044.02,354.97 L1062.85,357.29 L1058.50,361.50 L1106.06,430.78 Z"/>
<path d="M1208.43,442.98 L1143.21,367.49 L1140.00,371.18 L1139.64,350.39 L1159.12,351.08 L1153.92,355.43 L1227.40,430.60 Z"/>
<path d="M1337.05,440.00 L1337.05,373.90 L1331.05,373.90 L1345.25,360.60 L1359.45,373.90 L1353.45,373.90 L1353.45,440.00 Z"/>
<path d="M551.75,18.95 L624.95,18.95 A17.0,17.0 0 0 1 641.95,35.95 L641.95,171.45 A17.0,17.0 0 0 1 624.95,188.45 L551.75,188.45 A17.0,17.0 0 0 1 534.75,171.45 L534.75,35.95 A17.0,17.0 0 0 1 551.75,18.95 Z"/>
<path d="M665.75,21.15 L739.05,21.15 A17.0,17.0 0 0 1 756.05,38.15 L756.05,173.15 A17.0,17.0 0 0 1 739.05,190.15 L665.75,190.15 A17.0,17.0 0 0 1 648.75,173.15 L648.75,38.15 A17.0,17.0 0 0 1 665.75,21.15 Z"/>
<path d="M779.85,19.15 L852.85,19.15 A17.0,17.0 0 0 1 869.85,36.15 L869.85,171.45 A17.0,17.0 0 0 1 852.85,188.45 L779.85,188.45 A17.0,17.0 0 0 1 762.85,171.45 L762.85,36.15 A17.0,17.0 0 0 1 779.85,19.15 Z"/>
<path d="M893.35,23.35 L966.45,23.35 A17.0,17.0 0 0 1 983.45,40.35 L983.45,175.55 A17.0,17.0 0 0 1 966.45,192.55 L893.35,192.55 A17.0,17.0 0 0 1 876.35,175.55 L876.35,40.35 A17.0,17.0 0 0 1 893.35,23.35 Z"/>
<path d="M1007.35,23.35 L1079.75,23.35 A17.0,17.0 0 0 1 1096.75,40.35 L1096.75,175.55 A17.0,17.0 0 0 1 1079.75,192.55 L1007.35,192.55 A17.0,17.0 0 0 1 990.35,175.55 L990.35,40.35 A17.0,17.0 0 0 1 1007.35,23.35 Z"/>
<path d="M1120.85,23.35 L1194.05,23.35 A17.0,17.0 0 0 1 1211.05,40.35 L1211.05,175.55 A17.0,17.0 0 0 1 1194.05,192.55 L1120.85,192.55 A17.0,17.0 0 0 1 1103.85,175.55 L1103.85,40.35 A17.0,17.0 0 0 1 1120.85,23.35 Z"/>
<path d="M1235.15,23.35 L1307.55,23.35 A17.0,17.0 0 0 1 1324.55,40.35 L1324.55,175.55 A17.0,17.0 0 0 1 1307.55,192.55 L1235.15,192.55 A17.0,17.0 0 0 1 1218.15,175.55 L1218.15,40.35 A17.0,17.0 0 0 1 1235.15,23.35 Z"/>
<path d="M1349.15,23.35 L1421.85,23.35 A17.0,17.0 0 0 1 1438.85,40.35 L1438.85,175.55 A17.0,17.0 0 0 1 1421.85,192.55 L1349.15,192.55 A17.0,17.0 0 0 1 1332.15,175.55 L1332.15,40.35 A17.0,17.0 0 0 1 1349.15,23.35 Z"/>
<path d="M541.35,432.05 L614.35,432.05 A17.0,17.0 0 0 1 631.35,449.05 L631.35,584.85 A17.0,17.0 0 0 1 614.35,601.85 L541.35,601.85 A17.0,17.0 0 0 1 524.35,584.85 L524.35,449.05 A17.0,17.0 0 0 1 541.35,432.05 Z"/>
<path d="M655.35,432.15 L728.35,432.15 A17.0,17.0 0 0 1 745.35,449.15 L745.35,584.85 A17.0,17.0 0 0 1 728.35,601.85 L655.35,601.85 A17.0,17.0 0 0 1 638.35,584.85 L638.35,449.15 A17.0,17.0 0 0 1 655.35,432.15 Z"/>
<path d="M769.35,430.05 L842.35,430.05 A17.0,17.0 0 0 1 859.35,447.05 L859.35,582.85 A17.0,17.0 0 0 1 842.35,599.85 L769.35,599.85 A17.0,17.0 0 0 1 752.35,582.85 L752.35,447.05 A17.0,17.0 0 0 1 769.35,430.05 Z"/>
<path d="M882.45,427.45 L955.75,427.45 A17.0,17.0 0 0 1 972.75,444.45 L972.75,579.55 A17.0,17.0 0 0 1 955.75,596.55 L882.45,596.55 A17.0,17.0 0 0 1 865.45,579.55 L865.45,444.45 A17.0,17.0 0 0 1 882.45,427.45 Z"/>
<path d="M993.95,427.45 L1066.35,427.45 A17.0,17.0 0 0 1 1083.35,444.45 L1083.35,579.55 A17.0,17.0 0 0 1 1066.35,596.55 L993.95,596.55 A17.0,17.0 0 0 1 976.95,579.55 L976.95,444.45 A17.0,17.0 0 0 1 993.95,427.45 Z"/>
<path d="M1106.35,427.45 L1179.35,427.45 A17.0,17.0 0 0 1 1196.35,444.45 L1196.35,579.55 A17.0,17.0 0 0 1 1179.35,596.55 L1106.35,596.55 A17.0,17.0 0 0 1 1089.35,579.55 L1089.35,444.45 A17.0,17.0 0 0 1 1106.35,427.45 Z"/>
<path d="M1217.25,427.45 L1290.15,427.45 A17.0,17.0 0 0 1 1307.15,444.45 L1307.15,579.55 A17.0,17.0 0 0 1 1290.15,596.55 L1217.25,596.55 A17.0,17.0 0 0 1 1200.25,579.55 L1200.25,444.45 A17.0,17.0 0 0 1 1217.25,427.45 Z"/>
<path d="M1337.95,427.45 L1411.25,427.45 A17.0,17.0 0 0 1 1428.25,444.45 L1428.25,579.55 A17.0,17.0 0 0 1 1411.25,596.55 L1337.95,596.55 A17.0,17.0 0 0 1 1320.95,579.55 L1320.95,444.45 A17.0,17.0 0 0 1 1337.95,427.45 Z"/>
</g>
<g fill="#fdebcb" stroke="#fdebcb" stroke-width="0.5">
<path d="M606.40,180.00 L606.40,250.40 L600.40,250.40 L614.60,263.70 L628.80,250.40 L622.80,250.40 L622.80,180.00 Z"/>
<path d="M677.10,180.00 L677.10,252.40 L671.10,252.40 L685.30,265.70 L699.50,252.40 L693.50,252.40 L693.50,180.00 Z"/>
<path d="M777.55,180.00 L777.55,252.40 L771.55,252.40 L785.75,265.70 L799.95,252.40 L793.95,252.40 L793.95,180.00 Z"/>
<path d="M887.65,185.00 L887.65,250.40 L881.65,250.40 L895.85,263.70 L910.05,250.40 L904.05,250.40 L904.05,185.00 Z"/>
<path d="M1006.90,187.69 L966.77,243.48 L962.73,240.34 L965.72,260.08 L983.25,256.64 L978.29,252.96 L1018.42,191.29 Z"/>
<path d="M1106.53,183.04 L1055.86,246.98 L1051.25,242.69 L1052.46,262.59 L1069.20,261.79 L1064.99,258.35 L1118.60,190.59 Z"/>
<path d="M1235.28,182.23 L1146.37,246.20 L1143.85,240.68 L1138.78,261.31 L1157.42,265.84 L1154.92,261.78 L1253.99,190.48 Z"/>
<path d="M1348.25,185.00 L1348.25,246.70 L1342.25,246.70 L1356.45,260.00 L1370.65,246.70 L1364.65,246.70 L1364.65,185.00 Z"/>
<path d="M595.45,440.00 L595.45,370.60 L589.45,370.60 L603.65,357.30 L617.85,370.60 L611.85,370.60 L611.85,440.00 Z"/>
<path d="M664.75,433.00 L667.70,370.60 L661.70,370.60 L675.90,357.30 L690.10,370.60 L684.10,370.60 L681.15,433.00 Z"/>
<path d="M766.40,440.00 L766.40,366.60 L760.40,366.60 L774.60,353.30 L788.80,366.60 L782.80,366.60 L782.80,440.00 Z"/>
<path d="M877.15,440.00 L877.15,369.80 L871.15,369.80 L885.35,356.50 L899.55,369.80 L893.55,369.80 L893.55,440.00 Z"/>
<path d="M993.93,435.21 L955.72,376.38 L951.25,380.09 L953.87,360.23 L971.84,363.00 L967.26,366.85 L1008.49,429.84 Z"/>
<path d="M1095.26,442.35 L1045.83,371.49 L1041.75,375.01 L1044.02,354.97 L1062.85,357.29 L1058.50,361.50 L1106.06,430.78 Z"/>
<path d="M1208.43,442.98 L1143.21,367.49 L1140.00,371.18 L1139.64,350.39 L1159.12,351.08 L1153.92,355.43 L1227.40,430.60 Z"/>
<path d="M1337.05,440.00 L1337.05,373.90 L1331.05,373.90 L1345.25,360.60 L1359.45,373.90 L1353.45,373.90 L1353.45,440.00 Z"/>
<path d="M551.75,18.95 L624.95,18.95 A17.0,17.0 0 0 1 641.95,35.95 L641.95,171.45 A17.0,17.0 0 0 1 624.95,188.45 L551.75,188.45 A17.0,17.0 0 0 1 534.75,171.45 L534.75,35.95 A17.0,17.0 0 0 1 551.75,18.95 Z"/>
<path d="M665.75,21.15 L739.05,21.15 A17.0,17.0 0 0 1 756.05,38.15 L756.05,173.15 A17.0,17.0 0 0 1 739.05,190.15 L665.75,190.15 A17.0,17.0 0 0 1 648.75,173.15 L648.75,38.15 A17.0,17.0 0 0 1 665.75,21.15 Z"/>
<path d="M779.85,19.15 L852.85,19.15 A17.0,17.0 0 0 1 869.85,36.15 L869.85,171.45 A17.0,17.0 0 0 1 852.85,188.45 L779.85,188.45 A17.0,17.0 0 0 1 762.85,171.45 L762.85,36.15 A17.0,17.0 0 0 1 779.85,19.15 Z"/>
<path d="M893.35,23.35 L966.45,23.35 A17.0,17.0 0 0 1 983.45,40.35 L983.45,175.55 A17.0,17.0 0 0 1 966.45,192.55 L893.35,192.55 A17.0,17.0 0 0 1 876.35,175.55 L876.35,40.35 A17.0,17.0 0 0 1 893.35,23.35 Z"/>
<path d="M1007.35,23.35 L1079.75,23.35 A17.0,17.0 0 0 1 1096.75,40.35 L1096.75,175.55 A17.0,17.0 0 0 1 1079.75,192.55 L1007.35,192.55 A17.0,17.0 0 0 1 990.35,175.55 L990.35,40.35 A17.0,17.0 0 0 1 1007.35,23.35 Z"/>
<path d="M1120.85,23.35 L1194.05,23.35 A17.0,17.0 0 0 1 1211.05,40.35 L1211.05,175.55 A17.0,17.0 0 0 1 1194.05,192.55 L1120.85,192.55 A17.0,17.0 0 0 1 1103.85,175.55 L1103.85,40.35 A17.0,17.0 0 0 1 1120.85,23.35 Z"/>
<path d="M1235.15,23.35 L1307.55,23.35 A17.0,17.0 0 0 1 1324.55,40.35 L1324.55,175.55 A17.0,17.0 0 0 1 1307.55,192.55 L1235.15,192.55 A17.0,17.0 0 0 1 1218.15,175.55 L1218.15,40.35 A17.0,17.0 0 0 1 1235.15,23.35 Z"/>
<path d="M1349.15,23.35 L1421.85,23.35 A17.0,17.0 0 0 1 1438.85,40.35 L1438.85,175.55 A17.0,17.0 0 0 1 1421.85,192.55 L1349.15,192.55 A17.0,17.0 0 0 1 1332.15,175.55 L1332.15,40.35 A17.0,17.0 0 0 1 1349.15,23.35 Z"/>
<path d="M541.35,432.05 L614.35,432.05 A17.0,17.0 0 0 1 631.35,449.05 L631.35,584.85 A17.0,17.0 0 0 1 614.35,601.85 L541.35,601.85 A17.0,17.0 0 0 1 524.35,584.85 L524.35,449.05 A17.0,17.0 0 0 1 541.35,432.05 Z"/>
<path d="M655.35,432.15 L728.35,432.15 A17.0,17.0 0 0 1 745.35,449.15 L745.35,584.85 A17.0,17.0 0 0 1 728.35,601.85 L655.35,601.85 A17.0,17.0 0 0 1 638.35,584.85 L638.35,449.15 A17.0,17.0 0 0 1 655.35,432.15 Z"/>
<path d="M769.35,430.05 L842.35,430.05 A17.0,17.0 0 0 1 859.35,447.05 L859.35,582.85 A17.0,17.0 0 0 1 842.35,599.85 L769.35,599.85 A17.0,17.0 0 0 1 752.35,582.85 L752.35,447.05 A17.0,17.0 0 0 1 769.35,430.05 Z"/>
<path d="M882.45,427.45 L955.75,427.45 A17.0,17.0 0 0 1 972.75,444.45 L972.75,579.55 A17.0,17.0 0 0 1 955.75,596.55 L882.45,596.55 A17.0,17.0 0 0 1 865.45,579.55 L865.45,444.45 A17.0,17.0 0 0 1 882.45,427.45 Z"/>
<path d="M993.95,427.45 L1066.35,427.45 A17.0,17.0 0 0 1 1083.35,444.45 L1083.35,579.55 A17.0,17.0 0 0 1 1066.35,596.55 L993.95,596.55 A17.0,17.0 0 0 1 976.95,579.55 L976.95,444.45 A17.0,17.0 0 0 1 993.95,427.45 Z"/>
<path d="M1106.35,427.45 L1179.35,427.45 A17.0,17.0 0 0 1 1196.35,444.45 L1196.35,579.55 A17.0,17.0 0 0 1 1179.35,596.55 L1106.35,596.55 A17.0,17.0 0 0 1 1089.35,579.55 L1089.35,444.45 A17.0,17.0 0 0 1 1106.35,427.45 Z"/>
<path d="M1217.25,427.45 L1290.15,427.45 A17.0,17.0 0 0 1 1307.15,444.45 L1307.15,579.55 A17.0,17.0 0 0 1 1290.15,596.55 L1217.25,596.55 A17.0,17.0 0 0 1 1200.25,579.55 L1200.25,444.45 A17.0,17.0 0 0 1 1217.25,427.45 Z"/>
<path d="M1337.95,427.45 L1411.25,427.45 A17.0,17.0 0 0 1 1428.25,444.45 L1428.25,579.55 A17.0,17.0 0 0 1 1411.25,596.55 L1337.95,596.55 A17.0,17.0 0 0 1 1320.95,579.55 L1320.95,444.45 A17.0,17.0 0 0 1 1337.95,427.45 Z"/>
</g>
<g clip-path="url(#c1)"><g transform="translate(702.4 46.9) scale(0.28986)" stroke-linejoin="round" stroke-linecap="round"><path d="M-47,72 L-41,66 L-98,-22Z M47,72 L41,66 L93,-24Z M-84,284 L-76,290 L-110,362Z M82,284 L74,290 L108,359Z" fill="#1a1a1a" stroke="#1a1a1a" stroke-width="3"/><path d="M-48,133 L-98,122 L-134,98 L-172,70" fill="none" stroke="#2a2118" stroke-width="10"/><path d="M-48,133 L-98,122 L-134,98 L-172,70" fill="none" stroke="#d2c6b0" stroke-width="4.2" stroke-linecap="butt" stroke-dasharray="9 4.5"/><path d="M48,129 L100,116 L136,93 L171,64" fill="none" stroke="#2a2118" stroke-width="10"/><path d="M48,129 L100,116 L136,93 L171,64" fill="none" stroke="#d2c6b0" stroke-width="4.2" stroke-linecap="butt" stroke-dasharray="9 4.5"/><path d="M-48,133 L-92,124" fill="none" stroke="#30281e" stroke-width="13" stroke-linecap="round" stroke-linejoin="round"/><path d="M-48,133 L-92,124" fill="none" stroke="#d5d5d5" stroke-width="7.5" stroke-linecap="round" stroke-linejoin="round"/><path d="M48,129 L94,118" fill="none" stroke="#30281e" stroke-width="13" stroke-linecap="round" stroke-linejoin="round"/><path d="M48,129 L94,118" fill="none" stroke="#d5d5d5" stroke-width="7.5" stroke-linecap="round" stroke-linejoin="round"/><path d="M-20,6 L-32,-8 L-62,-13 M-30,-7 L-54,-20 M-40,-10 L-58,-6 M20,6 L31,-9 L58,-18 M30,-8 L52,-23 M40,-12 L58,-10" stroke="#111" stroke-width="5.5" fill="none"/><path d="M-37,9 Q0,-4 37,9 L40,76 L-40,76Z" fill="#bdbdbd" stroke="#333" stroke-width="3"/><ellipse cx="-36" cy="41" rx="21" ry="37" transform="rotate(15 -36 41)" fill="#b3220a" stroke="#5b0f00" stroke-width="2.5"/><ellipse cx="36" cy="41" rx="21" ry="37" transform="rotate(-15 36 41)" fill="#b3220a" stroke="#5b0f00" stroke-width="2.5"/><path d="M-58,120 C-84,190 -96,290 -86,360 C-78,410 -38,430 -13,410 C3,390 6,310 3,250 C1,190 -18,140 -58,120Z" fill="#fdebcb"/><path d="M54,123 C78,190 88,290 81,355 C73,410 32,430 4,410 C-18,390 -23,310 -20,250 C-18,190 14,140 54,123Z" fill="#fdebcb"/><path d="M-42,170 C-48,200 -48,240 -45,264 L-22,338 L0,360 L22,338 L45,264 C48,240 48,200 42,170Z" fill="#cfcfcf" stroke="#7a7a7a" stroke-width="3"/><path d="M-45,262 L0,296 L45,262 L38,288 L0,320 L-38,288Z" fill="#9c9c9c" stroke="#7a7a7a" stroke-width="2.5"/><path d="M-38,288 L0,320 L38,288 L30,313 L0,340 L-30,313Z" fill="#c4c4c4" stroke="#7a7a7a" stroke-width="2.5"/><path d="M-30,313 L0,340 L30,313 L22,338 L0,360 L-22,338Z" fill="#9c9c9c" stroke="#7a7a7a" stroke-width="2.5"/><path d="M-46,212 Q0,236 46,212 M-47,238 Q0,266 47,238" fill="none" stroke="#7a7a7a" stroke-width="2.5"/><path d="M-58,120 C-84,190 -96,290 -86,360 C-78,410 -38,430 -13,410 C3,390 6,310 3,250 C1,190 -18,140 -58,120Z" fill="#d5dded" fill-opacity="0.74" stroke="none"/><path d="M54,123 C78,190 88,290 81,355 C73,410 32,430 4,410 C-18,390 -23,310 -20,250 C-18,190 14,140 54,123Z" fill="#d5dded" fill-opacity="0.74" stroke="none"/><path d="M-58,120 C-84,190 -96,290 -86,360 C-78,410 -38,430 -13,410 C3,390 6,310 3,250 C1,190 -18,140 -58,120Z" transform="translate(16 52) scale(0.78)" fill="#c9d2ea" fill-opacity="0.55" stroke="#a4b0cb" stroke-width="3.5"/><path d="M54,123 C78,190 88,290 81,355 C73,410 32,430 4,410 C-18,390 -23,310 -20,250 C-18,190 14,140 54,123Z" transform="translate(-16 52) scale(0.78)" fill="#c9d2ea" fill-opacity="0.55" stroke="#a4b0cb" stroke-width="3.5"/><path d="M-58,120 C-84,190 -96,290 -86,360 C-78,410 -38,430 -13,410 C3,390 6,310 3,250 C1,190 -18,140 -58,120Z" fill="none" stroke="#050505" stroke-width="6.5"/><path d="M54,123 C78,190 88,290 81,355 C73,410 32,430 4,410 C-18,390 -23,310 -20,250 C-18,190 14,140 54,123Z" fill="none" stroke="#050505" stroke-width="6.5"/><path d="M-45,80 Q0,69 45,80 C56,100 54,150 43,176 Q0,203 -43,176 C-54,150 -56,100 -45,80Z" fill="#8f8f8f" stroke="#111" stroke-width="4.5"/><path d="M-45,80 Q0,69 45,80 C56,100 54,150 43,176 Q0,203 -43,176 C-54,150 -56,100 -45,80Z" transform="translate(0 20.5) scale(0.84)" fill="#b7b7b7" stroke="#222" stroke-width="3.5"/><path d="M-45,80 Q0,69 45,80 C56,100 54,150 43,176 Q0,203 -43,176 C-54,150 -56,100 -45,80Z" transform="translate(0 41) scale(0.68)" fill="#d9d9d9" stroke="#222" stroke-width="3.5"/><path d="M-19,104 Q0,98 21,105 C29,120 27,148 18,162 Q1,182 -15,164 C-27,148 -27,120 -19,104Z" fill="#f3f3f3" stroke="#111" stroke-width="4"/></g></g>
<g clip-path="url(#c3)"><g transform="translate(928.0 48.3) scale(0.30725)" stroke-linejoin="round" stroke-linecap="round"><path d="M-47,72 L-41,66 L-98,-22Z M47,72 L41,66 L93,-24Z M-84,284 L-76,290 L-110,362Z M82,284 L74,290 L108,359Z" fill="#1a1a1a" stroke="#1a1a1a" stroke-width="3"/><path d="M-48,133 L-98,122 L-134,98 L-172,70" fill="none" stroke="#2a2118" stroke-width="10"/><path d="M-48,133 L-98,122 L-134,98 L-172,70" fill="none" stroke="#d2c6b0" stroke-width="4.2" stroke-linecap="butt" stroke-dasharray="9 4.5"/><path d="M48,129 L100,116 L136,93 L171,64" fill="none" stroke="#2a2118" stroke-width="10"/><path d="M48,129 L100,116 L136,93 L171,64" fill="none" stroke="#d2c6b0" stroke-width="4.2" stroke-linecap="butt" stroke-dasharray="9 4.5"/><path d="M-48,133 L-92,124" fill="none" stroke="#30281e" stroke-width="13" stroke-linecap="round" stroke-linejoin="round"/><path d="M-48,133 L-92,124" fill="none" stroke="#d5d5d5" stroke-width="7.5" stroke-linecap="round" stroke-linejoin="round"/><path d="M48,129 L94,118" fill="none" stroke="#30281e" stroke-width="13" stroke-linecap="round" stroke-linejoin="round"/><path d="M48,129 L94,118" fill="none" stroke="#d5d5d5" stroke-width="7.5" stroke-linecap="round" stroke-linejoin="round"/><path d="M-20,6 L-32,-8 L-62,-13 M-30,-7 L-54,-20 M-40,-10 L-58,-6 M20,6 L31,-9 L58,-18 M30,-8 L52,-23 M40,-12 L58,-10" stroke="#111" stroke-width="5.5" fill="none"/><path d="M-37,9 Q0,-4 37,9 L40,76 L-40,76Z" fill="#bdbdbd" stroke="#333" stroke-width="3"/><ellipse cx="-36" cy="41" rx="21" ry="37" transform="rotate(15 -36 41)" fill="#b3220a" stroke="#5b0f00" stroke-width="2.5"/><ellipse cx="36" cy="41" rx="21" ry="37" transform="rotate(-15 36 41)" fill="#b3220a" stroke="#5b0f00" stroke-width="2.5"/><path d="M-49,92 C-95,150 -140,260 -139,335 C-137,388 -95,398 -66,372 C-33,335 -16,262 -16,205 C-16,160 -27,115 -49,92Z" fill="#fdebcb"/><path d="M49,92 C95,150 138,260 137,330 C135,382 95,394 66,367 C33,330 18,262 18,205 C18,160 27,115 49,92Z" fill="#fdebcb"/><path d="M-42,170 C-48,200 -48,240 -45,264 L-22,338 L0,360 L22,338 L45,264 C48,240 48,200 42,170Z" fill="#cfcfcf" stroke="#7a7a7a" stroke-width="3"/><path d="M-45,262 L0,296 L45,262 L38,288 L0,320 L-38,288Z" fill="#9c9c9c" stroke="#7a7a7a" stroke-width="2.5"/><path d="M-38,288 L0,320 L38,288 L30,313 L0,340 L-30,313Z" fill="#c4c4c4" stroke="#7a7a7a" stroke-width="2.5"/><path d="M-30,313 L0,340 L30,313 L22,338 L0,360 L-22,338Z" fill="#9c9c9c" stroke="#7a7a7a" stroke-width="2.5"/><path d="M-46,212 Q0,236 46,212 M-47,238 Q0,266 47,238" fill="none" stroke="#7a7a7a" stroke-width="2.5"/><path d="M-49,92 C-95,150 -140,260 -139,335 C-137,388 -95,398 -66,372 C-33,335 -16,262 -16,205 C-16,160 -27,115 -49,92Z" fill="#d5dded" fill-opacity="0.74" stroke="none"/><path d="M49,92 C95,150 138,260 137,330 C135,382 95,394 66,367 C33,330 18,262 18,205 C18,160 27,115 49,92Z" fill="#d5dded" fill-opacity="0.74" stroke="none"/><path d="M-49,92 C-95,150 -140,260 -139,335 C-137,388 -95,398 -66,372 C-33,335 -16,262 -16,205 C-16,160 -27,115 -49,92Z" transform="translate(16 52) scale(0.78)" fill="#c9d2ea" fill-opacity="0.55" stroke="#a4b0cb" stroke-width="3.5"/><path d="M49,92 C95,150 138,260 137,330 C135,382 95,394 66,367 C33,330 18,262 18,205 C18,160 27,115 49,92Z" transform="translate(-16 52) scale(0.78)" fill="#c9d2ea" fill-opacity="0.55" stroke="#a4b0cb" stroke-width="3.5"/><path d="M-49,92 C-95,150 -140,260 -139,335 C-137,388 -95,398 -66,372 C-33,335 -16,262 -16,205 C-16,160 -27,115 -49,92Z" fill="none" stroke="#050505" stroke-width="6.5"/><path d="M49,92 C95,150 138,260 137,330 C135,382 95,394 66,367 C33,330 18,262 18,205 C18,160 27,115 49,92Z" fill="none" stroke="#050505" stroke-width="6.5"/><path d="M-45,80 Q0,69 45,80 C56,100 54,150 43,176 Q0,203 -43,176 C-54,150 -56,100 -45,80Z" fill="#8f8f8f" stroke="#111" stroke-width="4.5"/><path d="M-45,80 Q0,69 45,80 C56,100 54,150 43,176 Q0,203 -43,176 C-54,150 -56,100 -45,80Z" transform="translate(0 20.5) scale(0.84)" fill="#b7b7b7" stroke="#222" stroke-width="3.5"/><path d="M-45,80 Q0,69 45,80 C56,100 54,150 43,176 Q0,203 -43,176 C-54,150 -56,100 -45,80Z" transform="translate(0 41) scale(0.68)" fill="#d9d9d9" stroke="#222" stroke-width="3.5"/><path d="M-19,104 Q0,98 21,105 C29,120 27,148 18,162 Q1,182 -15,164 C-27,148 -27,120 -19,104Z" fill="#f3f3f3" stroke="#111" stroke-width="4"/></g></g>
<g clip-path="url(#c5)"><g transform="translate(1153.8 48.3) scale(0.31884)" stroke-linejoin="round" stroke-linecap="round"><path d="M-47,72 L-41,66 L-98,-22Z M47,72 L41,66 L93,-24Z M-84,284 L-76,290 L-110,362Z M82,284 L74,290 L108,359Z" fill="#1a1a1a" stroke="#1a1a1a" stroke-width="3"/><path d="M-48,133 L-98,122 L-134,98 L-172,70" fill="none" stroke="#2a2118" stroke-width="10"/><path d="M-48,133 L-98,122 L-134,98 L-172,70" fill="none" stroke="#d2c6b0" stroke-width="4.2" stroke-linecap="butt" stroke-dasharray="9 4.5"/><path d="M48,129 L100,116 L136,93 L171,64" fill="none" stroke="#2a2118" stroke-width="10"/><path d="M48,129 L100,116 L136,93 L171,64" fill="none" stroke="#d2c6b0" stroke-width="4.2" stroke-linecap="butt" stroke-dasharray="9 4.5"/><path d="M-48,133 L-92,124" fill="none" stroke="#30281e" stroke-width="13" stroke-linecap="round" stroke-linejoin="round"/><path d="M-48,133 L-92,124" fill="none" stroke="#d5d5d5" stroke-width="7.5" stroke-linecap="round" stroke-linejoin="round"/><path d="M48,129 L94,118" fill="none" stroke="#30281e" stroke-width="13" stroke-linecap="round" stroke-linejoin="round"/><path d="M48,129 L94,118" fill="none" stroke="#d5d5d5" stroke-width="7.5" stroke-linecap="round" stroke-linejoin="round"/><path d="M-20,6 L-32,-8 L-62,-13 M-30,-7 L-54,-20 M-40,-10 L-58,-6 M20,6 L31,-9 L58,-18 M30,-8 L52,-23 M40,-12 L58,-10" stroke="#111" stroke-width="5.5" fill="none"/><path d="M-37,9 Q0,-4 37,9 L40,76 L-40,76Z" fill="#bdbdbd" stroke="#333" stroke-width="3"/><ellipse cx="-36" cy="41" rx="21" ry="37" transform="rotate(15 -36 41)" fill="#b3220a" stroke="#5b0f00" stroke-width="2.5"/><ellipse cx="36" cy="41" rx="21" ry="37" transform="rotate(-15 36 41)" fill="#b3220a" stroke="#5b0f00" stroke-width="2.5"/><path d="M-52,106 C-85,170 -110,280 -104,340 C-97,394 -50,412 -20,387 C0,360 4,290 1,230 C-2,175 -20,125 -52,106Z" fill="#fdebcb"/><path d="M52,106 C85,170 104,280 99,340 C93,394 50,412 18,387 C-4,360 -8,290 -6,230 C-4,175 18,125 52,106Z" fill="#fdebcb"/><path d="M-42,170 C-48,200 -48,240 -45,264 L-22,338 L0,360 L22,338 L45,264 C48,240 48,200 42,170Z" fill="#cfcfcf" stroke="#7a7a7a" stroke-width="3"/><path d="M-45,262 L0,296 L45,262 L38,288 L0,320 L-38,288Z" fill="#9c9c9c" stroke="#7a7a7a" stroke-width="2.5"/><path d="M-38,288 L0,320 L38,288 L30,313 L0,340 L-30,313Z" fill="#c4c4c4" stroke="#7a7a7a" stroke-width="2.5"/><path d="M-30,313 L0,340 L30,313 L22,338 L0,360 L-22,338Z" fill="#9c9c9c" stroke="#7a7a7a" stroke-width="2.5"/><path d="M-46,212 Q0,236 46,212 M-47,238 Q0,266 47,238" fill="none" stroke="#7a7a7a" stroke-width="2.5"/><path d="M-52,106 C-85,170 -110,280 -104,340 C-97,394 -50,412 -20,387 C0,360 4,290 1,230 C-2,175 -20,125 -52,106Z" fill="#d5dded" fill-opacity="0.74" stroke="none"/><path d="M52,106 C85,170 104,280 99,340 C93,394 50,412 18,387 C-4,360 -8,290 -6,230 C-4,175 18,125 52,106Z" fill="#d5dded" fill-opacity="0.74" stroke="none"/><path d="M-52,106 C-85,170 -110,280 -104,340 C-97,394 -50,412 -20,387 C0,360 4,290 1,230 C-2,175 -20,125 -52,106Z" transform="translate(16 52) scale(0.78)" fill="#c9d2ea" fill-opacity="0.55" stroke="#a4b0cb" stroke-width="3.5"/><path d="M52,106 C85,170 104,280 99,340 C93,394 50,412 18,387 C-4,360 -8,290 -6,230 C-4,175 18,125 52,106Z" transform="translate(-16 52) scale(0.78)" fill="#c9d2ea" fill-opacity="0.55" stroke="#a4b0cb" stroke-width="3.5"/><path d="M-52,106 C-85,170 -110,280 -104,340 C-97,394 -50,412 -20,387 C0,360 4,290 1,230 C-2,175 -20,125 -52,106Z" fill="none" stroke="#050505" stroke-width="6.5"/><path d="M52,106 C85,170 104,280 99,340 C93,394 50,412 18,387 C-4,360 -8,290 -6,230 C-4,175 18,125 52,106Z" fill="none" stroke="#050505" stroke-width="6.5"/><path d="M-45,80 Q0,69 45,80 C56,100 54,150 43,176 Q0,203 -43,176 C-54,150 -56,100 -45,80Z" fill="#8f8f8f" stroke="#111" stroke-width="4.5"/><path d="M-45,80 Q0,69 45,80 C56,100 54,150 43,176 Q0,203 -43,176 C-54,150 -56,100 -45,80Z" transform="translate(0 20.5) scale(0.84)" fill="#b7b7b7" stroke="#222" stroke-width="3.5"/><path d="M-45,80 Q0,69 45,80 C56,100 54,150 43,176 Q0,203 -43,176 C-54,150 -56,100 -45,80Z" transform="translate(0 41) scale(0.68)" fill="#d9d9d9" stroke="#222" stroke-width="3.5"/><path d="M-19,104 Q0,98 21,105 C29,120 27,148 18,162 Q1,182 -15,164 C-27,148 -27,120 -19,104Z" fill="#f3f3f3" stroke="#111" stroke-width="4"/></g></g>
<g clip-path="url(#c6)"><g transform="translate(1271.9 49.2) scale(0.31594)" stroke-linejoin="round" stroke-linecap="round"><path d="M-47,72 L-41,66 L-98,-22Z M47,72 L41,66 L93,-24Z M-84,284 L-76,290 L-110,362Z M82,284 L74,290 L108,359Z" fill="#1a1a1a" stroke="#1a1a1a" stroke-width="3"/><path d="M-48,133 L-98,122 L-134,98 L-172,70" fill="none" stroke="#2a2118" stroke-width="10"/><path d="M-48,133 L-98,122 L-134,98 L-172,70" fill="none" stroke="#d2c6b0" stroke-width="4.2" stroke-linecap="butt" stroke-dasharray="9 4.5"/><path d="M48,129 L100,116 L136,93 L171,64" fill="none" stroke="#2a2118" stroke-width="10"/><path d="M48,129 L100,116 L136,93 L171,64" fill="none" stroke="#d2c6b0" stroke-width="4.2" stroke-linecap="butt" stroke-dasharray="9 4.5"/><path d="M-48,133 L-92,124" fill="none" stroke="#30281e" stroke-width="13" stroke-linecap="round" stroke-linejoin="round"/><path d="M-48,133 L-92,124" fill="none" stroke="#d5d5d5" stroke-width="7.5" stroke-linecap="round" stroke-linejoin="round"/><path d="M48,129 L94,118" fill="none" stroke="#30281e" stroke-width="13" stroke-linecap="round" stroke-linejoin="round"/><path d="M48,129 L94,118" fill="none" stroke="#d5d5d5" stroke-width="7.5" stroke-linecap="round" stroke-linejoin="round"/><path d="M-20,6 L-32,-8 L-62,-13 M-30,-7 L-54,-20 M-40,-10 L-58,-6 M20,6 L31,-9 L58,-18 M30,-8 L52,-23 M40,-12 L58,-10" stroke="#111" stroke-width="5.5" fill="none"/><path d="M-37,9 Q0,-4 37,9 L40,76 L-40,76Z" fill="#bdbdbd" stroke="#333" stroke-width="3"/><ellipse cx="-36" cy="41" rx="21" ry="37" transform="rotate(15 -36 41)" fill="#b3220a" stroke="#5b0f00" stroke-width="2.5"/><ellipse cx="36" cy="41" rx="21" ry="37" transform="rotate(-15 36 41)" fill="#b3220a" stroke="#5b0f00" stroke-width="2.5"/><path d="M-52,100 C-85,165 -112,270 -107,330 C-100,386 -55,402 -25,378 C-4,352 2,285 0,225 C-3,170 -20,120 -52,100Z" fill="#fdebcb"/><path d="M52,104 C85,170 102,280 97,342 C91,396 48,414 16,388 C-6,362 -12,290 -10,230 C-8,175 18,125 52,104Z" fill="#fdebcb"/><path d="M-42,170 C-48,200 -48,240 -45,264 L-22,338 L0,360 L22,338 L45,264 C48,240 48,200 42,170Z" fill="#cfcfcf" stroke="#7a7a7a" stroke-width="3"/><path d="M-45,262 L0,296 L45,262 L38,288 L0,320 L-38,288Z" fill="#9c9c9c" stroke="#7a7a7a" stroke-width="2.5"/><path d="M-38,288 L0,320 L38,288 L30,313 L0,340 L-30,313Z" fill="#c4c4c4" stroke="#7a7a7a" stroke-width="2.5"/><path d="M-30,313 L0,340 L30,313 L22,338 L0,360 L-22,338Z" fill="#9c9c9c" stroke="#7a7a7a" stroke-width="2.5"/><path d="M-46,212 Q0,236 46,212 M-47,238 Q0,266 47,238" fill="none" stroke="#7a7a7a" stroke-width="2.5"/><path d="M-52,100 C-85,165 -112,270 -107,330 C-100,386 -55,402 -25,378 C-4,352 2,285 0,225 C-3,170 -20,120 -52,100Z" fill="#d5dded" fill-opacity="0.74" stroke="none"/><path d="M52,104 C85,170 102,280 97,342 C91,396 48,414 16,388 C-6,362 -12,290 -10,230 C-8,175 18,125 52,104Z" fill="#d5dded" fill-opacity="0.74" stroke="none"/><path d="M-52,100 C-85,165 -112,270 -107,330 C-100,386 -55,402 -25,378 C-4,352 2,285 0,225 C-3,170 -20,120 -52,100Z" transform="translate(16 52) scale(0.78)" fill="#c9d2ea" fill-opacity="0.55" stroke="#a4b0cb" stroke-width="3.5"/><path d="M52,104 C85,170 102,280 97,342 C91,396 48,414 16,388 C-6,362 -12,290 -10,230 C-8,175 18,125 52,104Z" transform="translate(-16 52) scale(0.78)" fill="#c9d2ea" fill-opacity="0.55" stroke="#a4b0cb" stroke-width="3.5"/><path d="M-52,100 C-85,165 -112,270 -107,330 C-100,386 -55,402 -25,378 C-4,352 2,285 0,225 C-3,170 -20,120 -52,100Z" fill="none" stroke="#050505" stroke-width="6.5"/><path d="M52,104 C85,170 102,280 97,342 C91,396 48,414 16,388 C-6,362 -12,290 -10,230 C-8,175 18,125 52,104Z" fill="none" stroke="#050505" stroke-width="6.5"/><path d="M-45,80 Q0,69 45,80 C56,100 54,150 43,176 Q0,203 -43,176 C-54,150 -56,100 -45,80Z" fill="#8f8f8f" stroke="#111" stroke-width="4.5"/><path d="M-45,80 Q0,69 45,80 C56,100 54,150 43,176 Q0,203 -43,176 C-54,150 -56,100 -45,80Z" transform="translate(0 20.5) scale(0.84)" fill="#b7b7b7" stroke="#222" stroke-width="3.5"/><path d="M-45,80 Q0,69 45,80 C56,100 54,150 43,176 Q0,203 -43,176 C-54,150 -56,100 -45,80Z" transform="translate(0 41) scale(0.68)" fill="#d9d9d9" stroke="#222" stroke-width="3.5"/><path d="M-19,104 Q0,98 21,105 C29,120 27,148 18,162 Q1,182 -15,164 C-27,148 -27,120 -19,104Z" fill="#f3f3f3" stroke="#111" stroke-width="4"/></g></g>
<g clip-path="url(#c9)"><g transform="translate(692.1 469.8) scale(0.29420)" stroke-linejoin="round" stroke-linecap="round"><path d="M-47,72 L-41,66 L-98,-22Z M47,72 L41,66 L93,-24Z M-84,284 L-76,290 L-110,362Z M82,284 L74,290 L108,359Z" fill="#1a1a1a" stroke="#1a1a1a" stroke-width="3"/><path d="M-48,133 L-98,122 L-134,98 L-172,70" fill="none" stroke="#2a2118" stroke-width="10"/><path d="M-48,133 L-98,122 L-134,98 L-172,70" fill="none" stroke="#d2c6b0" stroke-width="4.2" stroke-linecap="butt" stroke-dasharray="9 4.5"/><path d="M48,129 L100,116 L136,93 L171,64" fill="none" stroke="#2a2118" stroke-width="10"/><path d="M48,129 L100,116 L136,93 L171,64" fill="none" stroke="#d2c6b0" stroke-width="4.2" stroke-linecap="butt" stroke-dasharray="9 4.5"/><path d="M-48,133 L-92,124" fill="none" stroke="#30281e" stroke-width="13" stroke-linecap="round" stroke-linejoin="round"/><path d="M-48,133 L-92,124" fill="none" stroke="#d5d5d5" stroke-width="7.5" stroke-linecap="round" stroke-linejoin="round"/><path d="M48,129 L94,118" fill="none" stroke="#30281e" stroke-width="13" stroke-linecap="round" stroke-linejoin="round"/><path d="M48,129 L94,118" fill="none" stroke="#d5d5d5" stroke-width="7.5" stroke-linecap="round" stroke-linejoin="round"/><path d="M-20,6 L-32,-8 L-62,-13 M-30,-7 L-54,-20 M-40,-10 L-58,-6 M20,6 L31,-9 L58,-18 M30,-8 L52,-23 M40,-12 L58,-10" stroke="#111" stroke-width="5.5" fill="none"/><path d="M-37,9 Q0,-4 37,9 L40,76 L-40,76Z" fill="#bdbdbd" stroke="#333" stroke-width="3"/><ellipse cx="-36" cy="41" rx="21" ry="37" transform="rotate(15 -36 41)" fill="#b3220a" stroke="#5b0f00" stroke-width="2.5"/><ellipse cx="36" cy="41" rx="21" ry="37" transform="rotate(-15 36 41)" fill="#b3220a" stroke="#5b0f00" stroke-width="2.5"/><path d="M-57,118 C-65,170 -80,230 -86,276 L-57,286 L-17,271 L-7,296 L-12,271 L-7,241 L-27,212 L-12,172 L-2,143 L-30,120Z" fill="#fdebcb"/><path d="M57,123 C62,180 66,240 66,296 L32,296 L7,281 L-7,296 L-12,271 L-7,241 L-27,212 L-12,172 L-2,143 L30,122Z" fill="#fdebcb"/><path d="M-42,170 C-48,200 -48,240 -45,264 L-22,338 L0,360 L22,338 L45,264 C48,240 48,200 42,170Z" fill="#cfcfcf" stroke="#7a7a7a" stroke-width="3"/><path d="M-45,262 L0,296 L45,262 L38,288 L0,320 L-38,288Z" fill="#9c9c9c" stroke="#7a7a7a" stroke-width="2.5"/><path d="M-38,288 L0,320 L38,288 L30,313 L0,340 L-30,313Z" fill="#c4c4c4" stroke="#7a7a7a" stroke-width="2.5"/><path d="M-30,313 L0,340 L30,313 L22,338 L0,360 L-22,338Z" fill="#9c9c9c" stroke="#7a7a7a" stroke-width="2.5"/><path d="M-46,212 Q0,236 46,212 M-47,238 Q0,266 47,238" fill="none" stroke="#7a7a7a" stroke-width="2.5"/><path d="M-57,118 C-65,170 -80,230 -86,276 L-57,286 L-17,271 L-7,296 L-12,271 L-7,241 L-27,212 L-12,172 L-2,143 L-30,120Z" fill="#d5dded" fill-opacity="0.74" stroke="none"/><path d="M57,123 C62,180 66,240 66,296 L32,296 L7,281 L-7,296 L-12,271 L-7,241 L-27,212 L-12,172 L-2,143 L30,122Z" fill="#d5dded" fill-opacity="0.74" stroke="none"/><path d="M-57,118 C-65,170 -80,230 -86,276 L-57,286 L-17,271 L-7,296 L-12,271 L-7,241 L-27,212 L-12,172 L-2,143 L-30,120Z" fill="none" stroke="#050505" stroke-width="6.5"/><path d="M57,123 C62,180 66,240 66,296 L32,296 L7,281 L-7,296 L-12,271 L-7,241 L-27,212 L-12,172 L-2,143 L30,122Z" fill="none" stroke="#050505" stroke-width="6.5"/><path d="M-45,80 Q0,69 45,80 C56,100 54,150 43,176 Q0,203 -43,176 C-54,150 -56,100 -45,80Z" fill="#8f8f8f" stroke="#111" stroke-width="4.5"/><path d="M-45,80 Q0,69 45,80 C56,100 54,150 43,176 Q0,203 -43,176 C-54,150 -56,100 -45,80Z" transform="translate(0 20.5) scale(0.84)" fill="#b7b7b7" stroke="#222" stroke-width="3.5"/><path d="M-45,80 Q0,69 45,80 C56,100 54,150 43,176 Q0,203 -43,176 C-54,150 -56,100 -45,80Z" transform="translate(0 41) scale(0.68)" fill="#d9d9d9" stroke="#222" stroke-width="3.5"/><path d="M-19,104 Q0,98 21,105 C29,120 27,148 18,162 Q1,182 -15,164 C-27,148 -27,120 -19,104Z" fill="#f3f3f3" stroke="#111" stroke-width="4"/></g></g>
<g clip-path="url(#c11)"><g transform="translate(919.9 461.5) scale(0.31594)" stroke-linejoin="round" stroke-linecap="round"><path d="M-47,72 L-41,66 L-98,-22Z M47,72 L41,66 L93,-24Z M-84,284 L-76,290 L-110,362Z M82,284 L74,290 L108,359Z" fill="#1a1a1a" stroke="#1a1a1a" stroke-width="3"/><path d="M-48,133 L-98,122 L-134,98 L-172,70" fill="none" stroke="#2a2118" stroke-width="10"/><path d="M-48,133 L-98,122 L-134,98 L-172,70" fill="none" stroke="#d2c6b0" stroke-width="4.2" stroke-linecap="butt" stroke-dasharray="9 4.5"/><path d="M48,129 L100,116 L136,93 L171,64" fill="none" stroke="#2a2118" stroke-width="10"/><path d="M48,129 L100,116 L136,93 L171,64" fill="none" stroke="#d2c6b0" stroke-width="4.2" stroke-linecap="butt" stroke-dasharray="9 4.5"/><path d="M-48,133 L-92,124" fill="none" stroke="#30281e" stroke-width="13" stroke-linecap="round" stroke-linejoin="round"/><path d="M-48,133 L-92,124" fill="none" stroke="#d5d5d5" stroke-width="7.5" stroke-linecap="round" stroke-linejoin="round"/><path d="M48,129 L94,118" fill="none" stroke="#30281e" stroke-width="13" stroke-linecap="round" stroke-linejoin="round"/><path d="M48,129 L94,118" fill="none" stroke="#d5d5d5" stroke-width="7.5" stroke-linecap="round" stroke-linejoin="round"/><path d="M-20,6 L-32,-8 L-62,-13 M-30,-7 L-54,-20 M-40,-10 L-58,-6 M20,6 L31,-9 L58,-18 M30,-8 L52,-23 M40,-12 L58,-10" stroke="#111" stroke-width="5.5" fill="none"/><path d="M-37,9 Q0,-4 37,9 L40,76 L-40,76Z" fill="#5a5a5a" stroke="#333" stroke-width="3"/><ellipse cx="-36" cy="41" rx="21" ry="37" transform="rotate(15 -36 41)" fill="#b3220a" stroke="#5b0f00" stroke-width="2.5"/><ellipse cx="36" cy="41" rx="21" ry="37" transform="rotate(-15 36 41)" fill="#b3220a" stroke="#5b0f00" stroke-width="2.5"/><path d="M-52,88 C-100,150 -147,255 -146,325 C-144,372 -100,380 -72,358 C-44,330 -23,280 -23,225 C-23,170 -36,120 -52,88Z" fill="#fdebcb"/><path d="M50,92 C98,150 128,260 128,330 C126,378 92,386 68,362 C42,335 23,285 23,230 C23,175 35,122 50,92Z" fill="#fdebcb"/><path d="M-42,170 C-48,200 -48,240 -45,264 L-22,338 L0,360 L22,338 L45,264 C48,240 48,200 42,170Z" fill="#5a5a5a" stroke="#2e2e2e" stroke-width="3"/><path d="M-45,262 L0,296 L45,262 L38,288 L0,320 L-38,288Z" fill="#444444" stroke="#2e2e2e" stroke-width="2.5"/><path d="M-38,288 L0,320 L38,288 L30,313 L0,340 L-30,313Z" fill="#6e6e6e" stroke="#2e2e2e" stroke-width="2.5"/><path d="M-30,313 L0,340 L30,313 L22,338 L0,360 L-22,338Z" fill="#444444" stroke="#2e2e2e" stroke-width="2.5"/><path d="M-46,212 Q0,236 46,212 M-47,238 Q0,266 47,238" fill="none" stroke="#2e2e2e" stroke-width="2.5"/><path d="M-52,88 C-100,150 -147,255 -146,325 C-144,372 -100,380 -72,358 C-44,330 -23,280 -23,225 C-23,170 -36,120 -52,88Z" fill="#d5dded" fill-opacity="0.74" stroke="none"/><path d="M50,92 C98,150 128,260 128,330 C126,378 92,386 68,362 C42,335 23,285 23,230 C23,175 35,122 50,92Z" fill="#d5dded" fill-opacity="0.74" stroke="none"/><path d="M-52,88 C-100,150 -147,255 -146,325 C-144,372 -100,380 -72,358 C-44,330 -23,280 -23,225 C-23,170 -36,120 -52,88Z" transform="translate(16 52) scale(0.78)" fill="#c9d2ea" fill-opacity="0.55" stroke="#a4b0cb" stroke-width="3.5"/><path d="M50,92 C98,150 128,260 128,330 C126,378 92,386 68,362 C42,335 23,285 23,230 C23,175 35,122 50,92Z" transform="translate(-16 52) scale(0.78)" fill="#c9d2ea" fill-opacity="0.55" stroke="#a4b0cb" stroke-width="3.5"/><path d="M-52,88 C-100,150 -147,255 -146,325 C-144,372 -100,380 -72,358 C-44,330 -23,280 -23,225 C-23,170 -36,120 -52,88Z" fill="none" stroke="#050505" stroke-width="6.5"/><path d="M50,92 C98,150 128,260 128,330 C126,378 92,386 68,362 C42,335 23,285 23,230 C23,175 35,122 50,92Z" fill="none" stroke="#050505" stroke-width="6.5"/><path d="M-45,80 Q0,69 45,80 C56,100 54,150 43,176 Q0,203 -43,176 C-54,150 -56,100 -45,80Z" fill="#4a4a4a" stroke="#111" stroke-width="4.5"/><path d="M-45,80 Q0,69 45,80 C56,100 54,150 43,176 Q0,203 -43,176 C-54,150 -56,100 -45,80Z" transform="translate(0 20.5) scale(0.84)" fill="#666666" stroke="#222" stroke-width="3.5"/><path d="M-45,80 Q0,69 45,80 C56,100 54,150 43,176 Q0,203 -43,176 C-54,150 -56,100 -45,80Z" transform="translate(0 41) scale(0.68)" fill="#7f7f7f" stroke="#222" stroke-width="3.5"/><path d="M-19,104 Q0,98 21,105 C29,120 27,148 18,162 Q1,182 -15,164 C-27,148 -27,120 -19,104Z" fill="#999999" stroke="#111" stroke-width="4"/></g></g>
<g clip-path="url(#c13)"><g transform="translate(1144.4 461.5) scale(0.30725)" stroke-linejoin="round" stroke-linecap="round"><path d="M-47,72 L-41,66 L-98,-22Z M47,72 L41,66 L93,-24Z M-84,284 L-76,290 L-110,362Z M82,284 L74,290 L108,359Z" fill="#1a1a1a" stroke="#1a1a1a" stroke-width="3"/><path d="M-48,133 L-98,122 L-134,98 L-172,70" fill="none" stroke="#2a2118" stroke-width="10"/><path d="M-48,133 L-98,122 L-134,98 L-172,70" fill="none" stroke="#d2c6b0" stroke-width="4.2" stroke-linecap="butt" stroke-dasharray="9 4.5"/><path d="M48,129 L100,116 L136,93 L171,64" fill="none" stroke="#2a2118" stroke-width="10"/><path d="M48,129 L100,116 L136,93 L171,64" fill="none" stroke="#d2c6b0" stroke-width="4.2" stroke-linecap="butt" stroke-dasharray="9 4.5"/><path d="M-48,133 L-92,124" fill="none" stroke="#30281e" stroke-width="13" stroke-linecap="round" stroke-linejoin="round"/><path d="M-48,133 L-92,124" fill="none" stroke="#d5d5d5" stroke-width="7.5" stroke-linecap="round" stroke-linejoin="round"/><path d="M48,129 L94,118" fill="none" stroke="#30281e" stroke-width="13" stroke-linecap="round" stroke-linejoin="round"/><path d="M48,129 L94,118" fill="none" stroke="#d5d5d5" stroke-width="7.5" stroke-linecap="round" stroke-linejoin="round"/><path d="M-20,6 L-32,-8 L-62,-13 M-30,-7 L-54,-20 M-40,-10 L-58,-6 M20,6 L31,-9 L58,-18 M30,-8 L52,-23 M40,-12 L58,-10" stroke="#111" stroke-width="5.5" fill="none"/><path d="M-37,9 Q0,-4 37,9 L40,76 L-40,76Z" fill="#bdbdbd" stroke="#333" stroke-width="3"/><ellipse cx="-36" cy="41" rx="21" ry="37" transform="rotate(15 -36 41)" fill="#b3220a" stroke="#5b0f00" stroke-width="2.5"/><ellipse cx="36" cy="41" rx="21" ry="37" transform="rotate(-15 36 41)" fill="#b3220a" stroke="#5b0f00" stroke-width="2.5"/><path d="M-54,116 C-80,150 -108,200 -106,238 C-104,270 -90,284 -78,276 C-50,255 -25,225 -22,190 C-20,160 -35,130 -54,116Z" fill="#fdebcb"/><path d="M52,122 C76,152 99,200 97,236 C95,266 84,278 72,270 C48,250 26,222 23,190 C21,162 34,134 52,122Z" fill="#fdebcb"/><path d="M-42,170 C-48,200 -48,240 -45,264 L-22,338 L0,360 L22,338 L45,264 C48,240 48,200 42,170Z" fill="#cfcfcf" stroke="#7a7a7a" stroke-width="3"/><path d="M-45,262 L0,296 L45,262 L38,288 L0,320 L-38,288Z" fill="#9c9c9c" stroke="#7a7a7a" stroke-width="2.5"/><path d="M-38,288 L0,320 L38,288 L30,313 L0,340 L-30,313Z" fill="#c4c4c4" stroke="#7a7a7a" stroke-width="2.5"/><path d="M-30,313 L0,340 L30,313 L22,338 L0,360 L-22,338Z" fill="#9c9c9c" stroke="#7a7a7a" stroke-width="2.5"/><path d="M-46,212 Q0,236 46,212 M-47,238 Q0,266 47,238" fill="none" stroke="#7a7a7a" stroke-width="2.5"/><path d="M-54,116 C-80,150 -108,200 -106,238 C-104,270 -90,284 -78,276 C-50,255 -25,225 -22,190 C-20,160 -35,130 -54,116Z" fill="#d5dded" fill-opacity="0.74" stroke="none"/><path d="M52,122 C76,152 99,200 97,236 C95,266 84,278 72,270 C48,250 26,222 23,190 C21,162 34,134 52,122Z" fill="#d5dded" fill-opacity="0.74" stroke="none"/><path d="M-54,116 C-80,150 -108,200 -106,238 C-104,270 -90,284 -78,276 C-50,255 -25,225 -22,190 C-20,160 -35,130 -54,116Z" transform="translate(16 52) scale(0.78)" fill="#c9d2ea" fill-opacity="0.55" stroke="#a4b0cb" stroke-width="3.5"/><path d="M52,122 C76,152 99,200 97,236 C95,266 84,278 72,270 C48,250 26,222 23,190 C21,162 34,134 52,122Z" transform="translate(-16 52) scale(0.78)" fill="#c9d2ea" fill-opacity="0.55" stroke="#a4b0cb" stroke-width="3.5"/><path d="M-54,116 C-80,150 -108,200 -106,238 C-104,270 -90,284 -78,276 C-50,255 -25,225 -22,190 C-20,160 -35,130 -54,116Z" fill="none" stroke="#050505" stroke-width="6.5"/><path d="M52,122 C76,152 99,200 97,236 C95,266 84,278 72,270 C48,250 26,222 23,190 C21,162 34,134 52,122Z" fill="none" stroke="#050505" stroke-width="6.5"/><path d="M-45,80 Q0,69 45,80 C56,100 54,150 43,176 Q0,203 -43,176 C-54,150 -56,100 -45,80Z" fill="#8f8f8f" stroke="#111" stroke-width="4.5"/><path d="M-45,80 Q0,69 45,80 C56,100 54,150 43,176 Q0,203 -43,176 C-54,150 -56,100 -45,80Z" transform="translate(0 20.5) scale(0.84)" fill="#b7b7b7" stroke="#222" stroke-width="3.5"/><path d="M-45,80 Q0,69 45,80 C56,100 54,150 43,176 Q0,203 -43,176 C-54,150 -56,100 -45,80Z" transform="translate(0 41) scale(0.68)" fill="#d9d9d9" stroke="#222" stroke-width="3.5"/><path d="M-19,104 Q0,98 21,105 C29,120 27,148 18,162 Q1,182 -15,164 C-27,148 -27,120 -19,104Z" fill="#f3f3f3" stroke="#111" stroke-width="4"/></g></g>
<g clip-path="url(#c14)"><g transform="translate(1254.6 464.4) scale(0.30145)" stroke-linejoin="round" stroke-linecap="round"><path d="M-47,72 L-41,66 L-98,-22Z M47,72 L41,66 L93,-24Z M-84,284 L-76,290 L-110,362Z M82,284 L74,290 L108,359Z" fill="#1a1a1a" stroke="#1a1a1a" stroke-width="3"/><path d="M-48,133 L-98,122 L-134,98 L-172,70" fill="none" stroke="#2a2118" stroke-width="10"/><path d="M-48,133 L-98,122 L-134,98 L-172,70" fill="none" stroke="#d2c6b0" stroke-width="4.2" stroke-linecap="butt" stroke-dasharray="9 4.5"/><path d="M48,129 L100,116 L136,93 L171,64" fill="none" stroke="#2a2118" stroke-width="10"/><path d="M48,129 L100,116 L136,93 L171,64" fill="none" stroke="#d2c6b0" stroke-width="4.2" stroke-linecap="butt" stroke-dasharray="9 4.5"/><path d="M-48,133 L-92,124" fill="none" stroke="#30281e" stroke-width="13" stroke-linecap="round" stroke-linejoin="round"/><path d="M-48,133 L-92,124" fill="none" stroke="#d5d5d5" stroke-width="7.5" stroke-linecap="round" stroke-linejoin="round"/><path d="M48,129 L94,118" fill="none" stroke="#30281e" stroke-width="13" stroke-linecap="round" stroke-linejoin="round"/><path d="M48,129 L94,118" fill="none" stroke="#d5d5d5" stroke-width="7.5" stroke-linecap="round" stroke-linejoin="round"/><path d="M-20,6 L-32,-8 L-62,-13 M-30,-7 L-54,-20 M-40,-10 L-58,-6 M20,6 L31,-9 L58,-18 M30,-8 L52,-23 M40,-12 L58,-10" stroke="#111" stroke-width="5.5" fill="none"/><path d="M-37,9 Q0,-4 37,9 L40,76 L-40,76Z" fill="#bdbdbd" stroke="#333" stroke-width="3"/><ellipse cx="-36" cy="41" rx="21" ry="37" transform="rotate(15 -36 41)" fill="#b3220a" stroke="#5b0f00" stroke-width="2.5"/><ellipse cx="36" cy="41" rx="21" ry="37" transform="rotate(-15 36 41)" fill="#b3220a" stroke="#5b0f00" stroke-width="2.5"/><path d="M-57,108 C-64,150 -62,190 -68,215 C-80,260 -150,290 -155,325 C-158,360 -130,372 -100,366 C-75,362 -50,362 -36,355 C-28,330 -26,280 -30,240 C-34,190 -40,140 -57,108Z" fill="#fdebcb"/><path d="M51,102 C56,150 54,190 60,215 C72,255 134,275 138,305 C142,340 128,356 104,358 C80,362 52,366 34,360 C24,330 20,280 24,240 C28,190 34,140 51,102Z" fill="#fdebcb"/><path d="M-42,170 C-48,200 -48,240 -45,264 L-22,338 L0,360 L22,338 L45,264 C48,240 48,200 42,170Z" fill="#cfcfcf" stroke="#7a7a7a" stroke-width="3"/><path d="M-45,262 L0,296 L45,262 L38,288 L0,320 L-38,288Z" fill="#9c9c9c" stroke="#7a7a7a" stroke-width="2.5"/><path d="M-38,288 L0,320 L38,288 L30,313 L0,340 L-30,313Z" fill="#c4c4c4" stroke="#7a7a7a" stroke-width="2.5"/><path d="M-30,313 L0,340 L30,313 L22,338 L0,360 L-22,338Z" fill="#9c9c9c" stroke="#7a7a7a" stroke-width="2.5"/><path d="M-46,212 Q0,236 46,212 M-47,238 Q0,266 47,238" fill="none" stroke="#7a7a7a" stroke-width="2.5"/><path d="M-57,108 C-64,150 -62,190 -68,215 C-80,260 -150,290 -155,325 C-158,360 -130,372 -100,366 C-75,362 -50,362 -36,355 C-28,330 -26,280 -30,240 C-34,190 -40,140 -57,108Z" fill="#d5dded" fill-opacity="0.74" stroke="none"/><path d="M51,102 C56,150 54,190 60,215 C72,255 134,275 138,305 C142,340 128,356 104,358 C80,362 52,366 34,360 C24,330 20,280 24,240 C28,190 34,140 51,102Z" fill="#d5dded" fill-opacity="0.74" stroke="none"/><path d="M-57,108 C-64,150 -62,190 -68,215 C-80,260 -150,290 -155,325 C-158,360 -130,372 -100,366 C-75,362 -50,362 -36,355 C-28,330 -26,280 -30,240 C-34,190 -40,140 -57,108Z" transform="translate(16 52) scale(0.78)" fill="#c9d2ea" fill-opacity="0.55" stroke="#a4b0cb" stroke-width="3.5"/><path d="M51,102 C56,150 54,190 60,215 C72,255 134,275 138,305 C142,340 128,356 104,358 C80,362 52,366 34,360 C24,330 20,280 24,240 C28,190 34,140 51,102Z" transform="translate(-16 52) scale(0.78)" fill="#c9d2ea" fill-opacity="0.55" stroke="#a4b0cb" stroke-width="3.5"/><path d="M-57,108 C-64,150 -62,190 -68,215 C-80,260 -150,290 -155,325 C-158,360 -130,372 -100,366 C-75,362 -50,362 -36,355 C-28,330 -26,280 -30,240 C-34,190 -40,140 -57,108Z" fill="none" stroke="#050505" stroke-width="6.5"/><path d="M51,102 C56,150 54,190 60,215 C72,255 134,275 138,305 C142,340 128,356 104,358 C80,362 52,366 34,360 C24,330 20,280 24,240 C28,190 34,140 51,102Z" fill="none" stroke="#050505" stroke-width="6.5"/><path d="M-45,80 Q0,69 45,80 C56,100 54,150 43,176 Q0,203 -43,176 C-54,150 -56,100 -45,80Z" fill="#8f8f8f" stroke="#111" stroke-width="4.5"/><path d="M-45,80 Q0,69 45,80 C56,100 54,150 43,176 Q0,203 -43,176 C-54,150 -56,100 -45,80Z" transform="translate(0 20.5) scale(0.84)" fill="#b7b7b7" stroke="#222" stroke-width="3.5"/><path d="M-45,80 Q0,69 45,80 C56,100 54,150 43,176 Q0,203 -43,176 C-54,150 -56,100 -45,80Z" transform="translate(0 41) scale(0.68)" fill="#d9d9d9" stroke="#222" stroke-width="3.5"/><path d="M-19,104 Q0,98 21,105 C29,120 27,148 18,162 Q1,182 -15,164 C-27,148 -27,120 -19,104Z" fill="#f3f3f3" stroke="#111" stroke-width="4"/></g></g>
<g clip-path="url(#c2)"><g transform="translate(756 10) scale(0.28986)" stroke-linejoin="round" stroke-linecap="round"><path d="M181.1,28.6 L194.9,59.4" fill="none" stroke="#2a2a2a" stroke-width="8.0"/><path d="M181.1,28.6 L194.9,59.4" fill="none" stroke="#a6a6a6" stroke-width="2.5"/><path d="M197.3,65.1 L208.7,92.9" fill="none" stroke="#2a2a2a" stroke-width="9.5"/><path d="M197.3,65.1 L208.7,92.9" fill="none" stroke="#a6a6a6" stroke-width="4.0"/><path d="M211.5,99.5 L222.5,124.5" fill="none" stroke="#2a2a2a" stroke-width="11.0"/><path d="M211.5,99.5 L222.5,124.5" fill="none" stroke="#a6a6a6" stroke-width="5.5"/><path d="M226.2,131.8 L237.8,152.2" fill="none" stroke="#2a2a2a" stroke-width="12.5"/><path d="M226.2,131.8 L237.8,152.2" fill="none" stroke="#a6a6a6" stroke-width="7.0"/><path d="M242.9,159.9 L255.1,176.1" fill="none" stroke="#2a2a2a" stroke-width="14.0"/><path d="M242.9,159.9 L255.1,176.1" fill="none" stroke="#a6a6a6" stroke-width="8.5"/><path d="M262.5,183.3 L289.5,202.7" fill="none" stroke="#2a2a2a" stroke-width="16.0"/><path d="M262.5,183.3 L289.5,202.7" fill="none" stroke="#a6a6a6" stroke-width="10.5"/><path d="M33.0,174.4 L49.0,187.6" fill="none" stroke="#2a2a2a" stroke-width="11.0"/><path d="M33.0,174.4 L49.0,187.6" fill="none" stroke="#a6a6a6" stroke-width="5.5"/><path d="M55.5,192.3 L72.5,203.7" fill="none" stroke="#2a2a2a" stroke-width="12.0"/><path d="M55.5,192.3 L72.5,203.7" fill="none" stroke="#a6a6a6" stroke-width="6.5"/><path d="M79.9,208.4 L98.1,219.6" fill="none" stroke="#2a2a2a" stroke-width="13.0"/><path d="M79.9,208.4 L98.1,219.6" fill="none" stroke="#a6a6a6" stroke-width="7.5"/><path d="M106.3,224.4 L125.7,235.6" fill="none" stroke="#2a2a2a" stroke-width="14.0"/><path d="M106.3,224.4 L125.7,235.6" fill="none" stroke="#a6a6a6" stroke-width="8.5"/><path d="M135.0,239.7 L185.0,256.3" fill="none" stroke="#2a2a2a" stroke-width="15.0"/><path d="M135.0,239.7 L185.0,256.3" fill="none" stroke="#a6a6a6" stroke-width="9.5"/><path d="M195.9,258.6 L268.1,265.4" fill="none" stroke="#2a2a2a" stroke-width="17.0"/><path d="M195.9,258.6 L268.1,265.4" fill="none" stroke="#a6a6a6" stroke-width="11.5"/><path d="M291.9,334.7 L258.1,361.3" fill="none" stroke="#2a2a2a" stroke-width="22.0"/><path d="M291.9,334.7 L258.1,361.3" fill="none" stroke="#a6a6a6" stroke-width="16.5"/><path d="M249.5,372.1 L240.5,393.9" fill="none" stroke="#2a2a2a" stroke-width="19.0"/><path d="M249.5,372.1 L240.5,393.9" fill="none" stroke="#a6a6a6" stroke-width="13.5"/><path d="M237.3,405.2 L226.7,484.8" fill="none" stroke="#2a2a2a" stroke-width="15.0"/><path d="M237.3,405.2 L226.7,484.8" fill="none" stroke="#a6a6a6" stroke-width="9.5"/><path d="M224.2,493.8 L213.8,516.2" fill="none" stroke="#2a2a2a" stroke-width="12.0"/><path d="M224.2,493.8 L213.8,516.2" fill="none" stroke="#a6a6a6" stroke-width="6.5"/><path d="M210.1,523.3 L197.9,544.7" fill="none" stroke="#2a2a2a" stroke-width="11.0"/><path d="M210.1,523.3 L197.9,544.7" fill="none" stroke="#a6a6a6" stroke-width="5.5"/><path d="M194.0,550.9 L180.0,571.1" fill="none" stroke="#2a2a2a" stroke-width="10.0"/><path d="M194.0,550.9 L180.0,571.1" fill="none" stroke="#a6a6a6" stroke-width="4.5"/><path d="M176.4,576.3 L161.6,597.7" fill="none" stroke="#2a2a2a" stroke-width="8.0"/><path d="M176.4,576.3 L161.6,597.7" fill="none" stroke="#a6a6a6" stroke-width="2.5"/><g transform="translate(0 0)"><path d="M345,42 Q380,34 420,44 L420,215 L330,210 L305,185 Z" fill="#cccccc" stroke="#333" stroke-width="3"/><path d="M308,186 L332,206 L420,196 L420,375 C360,372 305,352 283,305 C266,262 276,212 308,186Z" fill="#999999" stroke="#1a1a1a" stroke-width="3.5"/><path d="M302,350 C280,380 268,405 278,445 C290,505 340,575 385,606 L420,612 L420,372 C380,372 330,362 302,350Z" fill="#8f8f8f" stroke="#1a1a1a" stroke-width="3.5"/><path d="M312,362 C292,392 284,412 292,446 C304,500 348,562 390,590 L420,596 L420,374 C380,374 336,368 312,362Z" fill="#a8a8a8" stroke="#333" stroke-width="2.5"/><path d="M322,370 C304,398 298,418 306,448 C318,496 356,550 394,574 L420,580 L420,376 C384,376 346,374 322,370Z" fill="#bdbdbd" stroke="#333" stroke-width="2.5"/><path d="M334,376 C318,402 312,422 320,450 C330,492 364,538 398,558 L420,562 L420,378 Z" fill="#d9d9d9" stroke="#333" stroke-width="2.5"/><ellipse cx="331" cy="113" rx="35" ry="70" transform="rotate(20 331 113)" fill="#b3220a" stroke="#5b0f00" stroke-width="3"/></g></g></g>
<g clip-path="url(#c10)"><g transform="translate(746 420) scale(0.28986)" stroke-linejoin="round" stroke-linecap="round"><path d="M245.7,94.7 L251.3,115.3" fill="none" stroke="#2a2a2a" stroke-width="8.0"/><path d="M245.7,94.7 L251.3,115.3" fill="none" stroke="#a6a6a6" stroke-width="2.5"/><path d="M252.9,121.2 L259.1,142.8" fill="none" stroke="#2a2a2a" stroke-width="9.5"/><path d="M252.9,121.2 L259.1,142.8" fill="none" stroke="#a6a6a6" stroke-width="4.0"/><path d="M261.1,149.7 L266.9,170.3" fill="none" stroke="#2a2a2a" stroke-width="11.0"/><path d="M261.1,149.7 L266.9,170.3" fill="none" stroke="#a6a6a6" stroke-width="5.5"/><path d="M269.4,178.3 L276.6,199.7" fill="none" stroke="#2a2a2a" stroke-width="13.0"/><path d="M269.4,178.3 L276.6,199.7" fill="none" stroke="#a6a6a6" stroke-width="7.5"/><path d="M280.8,208.5 L295.2,231.5" fill="none" stroke="#2a2a2a" stroke-width="15.0"/><path d="M280.8,208.5 L295.2,231.5" fill="none" stroke="#a6a6a6" stroke-width="9.5"/><path d="M142.3,215.1 L153.7,230.9" fill="none" stroke="#2a2a2a" stroke-width="11.0"/><path d="M142.3,215.1 L153.7,230.9" fill="none" stroke="#a6a6a6" stroke-width="5.5"/><path d="M158.8,237.1 L171.2,250.9" fill="none" stroke="#2a2a2a" stroke-width="12.0"/><path d="M158.8,237.1 L171.2,250.9" fill="none" stroke="#a6a6a6" stroke-width="6.5"/><path d="M177.2,257.2 L190.8,270.8" fill="none" stroke="#2a2a2a" stroke-width="13.0"/><path d="M177.2,257.2 L190.8,270.8" fill="none" stroke="#a6a6a6" stroke-width="7.5"/><path d="M197.8,277.1 L214.2,290.9" fill="none" stroke="#2a2a2a" stroke-width="14.0"/><path d="M197.8,277.1 L214.2,290.9" fill="none" stroke="#a6a6a6" stroke-width="8.5"/><path d="M223.9,295.1 L278.1,304.9" fill="none" stroke="#2a2a2a" stroke-width="17.0"/><path d="M223.9,295.1 L278.1,304.9" fill="none" stroke="#a6a6a6" stroke-width="11.5"/><path d="M294.3,376.6 L275.7,391.4" fill="none" stroke="#2a2a2a" stroke-width="21.0"/><path d="M294.3,376.6 L275.7,391.4" fill="none" stroke="#a6a6a6" stroke-width="15.5"/><path d="M267.5,401.8 L258.5,422.2" fill="none" stroke="#2a2a2a" stroke-width="18.0"/><path d="M267.5,401.8 L258.5,422.2" fill="none" stroke="#a6a6a6" stroke-width="12.5"/><path d="M255.5,432.9 L246.5,515.1" fill="none" stroke="#2a2a2a" stroke-width="14.0"/><path d="M255.5,432.9 L246.5,515.1" fill="none" stroke="#a6a6a6" stroke-width="8.5"/><path d="M244.6,524.0 L237.4,544.0" fill="none" stroke="#2a2a2a" stroke-width="12.0"/><path d="M244.6,524.0 L237.4,544.0" fill="none" stroke="#a6a6a6" stroke-width="6.5"/><path d="M234.4,551.5 L225.6,570.5" fill="none" stroke="#2a2a2a" stroke-width="11.0"/><path d="M234.4,551.5 L225.6,570.5" fill="none" stroke="#a6a6a6" stroke-width="5.5"/><path d="M222.6,576.8 L215.4,591.2" fill="none" stroke="#2a2a2a" stroke-width="9.0"/><path d="M222.6,576.8 L215.4,591.2" fill="none" stroke="#a6a6a6" stroke-width="3.5"/><path d="M212.6,596.4 L206.4,607.6" fill="none" stroke="#2a2a2a" stroke-width="8.0"/><path d="M212.6,596.4 L206.4,607.6" fill="none" stroke="#a6a6a6" stroke-width="2.5"/><g transform="translate(-5 46)"><path d="M345,42 Q380,34 420,44 L420,215 L330,210 L305,185 Z" fill="#cccccc" stroke="#333" stroke-width="3"/><path d="M308,186 L332,206 L420,196 L420,375 C360,372 305,352 283,305 C266,262 276,212 308,186Z" fill="#999999" stroke="#1a1a1a" stroke-width="3.5"/><path d="M302,350 C280,380 268,405 278,445 C290,505 340,575 385,606 L420,612 L420,372 C380,372 330,362 302,350Z" fill="#8f8f8f" stroke="#1a1a1a" stroke-width="3.5"/><path d="M312,362 C292,392 284,412 292,446 C304,500 348,562 390,590 L420,596 L420,374 C380,374 336,368 312,362Z" fill="#a8a8a8" stroke="#333" stroke-width="2.5"/><path d="M322,370 C304,398 298,418 306,448 C318,496 356,550 394,574 L420,580 L420,376 C384,376 346,374 322,370Z" fill="#bdbdbd" stroke="#333" stroke-width="2.5"/><path d="M334,376 C318,402 312,422 320,450 C330,492 364,538 398,558 L420,562 L420,378 Z" fill="#d9d9d9" stroke="#333" stroke-width="2.5"/><ellipse cx="331" cy="113" rx="35" ry="70" transform="rotate(20 331 113)" fill="#b3220a" stroke="#5b0f00" stroke-width="3"/></g></g></g>
<g clip-path="url(#c0)"><g transform="translate(588.87 90.58) scale(0.28986)" stroke-linejoin="round" stroke-linecap="round"><g transform="translate(0 -13)"><path d="M-194,-37 L-163,72 L-152,74 Z" fill="#d9d9d9" stroke="#222" stroke-width="3"/><path d="M-157.29000000000002,78 L-139.1,138" fill="none" stroke="#222" stroke-width="15" stroke-linecap="round" stroke-linejoin="round"/><path d="M-157.29000000000002,78 L-139.1,138" fill="none" stroke="#8c8c8c" stroke-width="9" stroke-linecap="round" stroke-linejoin="round"/><path d="M-135.89000000000001,146 L-98.44000000000001,186" fill="none" stroke="#222" stroke-width="17" stroke-linecap="round" stroke-linejoin="round"/><path d="M-135.89000000000001,146 L-98.44000000000001,186" fill="none" stroke="#b0b0b0" stroke-width="11" stroke-linecap="round" stroke-linejoin="round"/><path d="M178,-37 L147,68 L136,66 Z" fill="#e6e6e6" stroke="#222" stroke-width="3"/><path d="M140.17000000000002,74 L125.19000000000001,124" fill="none" stroke="#222" stroke-width="15" stroke-linecap="round" stroke-linejoin="round"/><path d="M140.17000000000002,74 L125.19000000000001,124" fill="none" stroke="#f0f0f0" stroke-width="9" stroke-linecap="round" stroke-linejoin="round"/><path d="M121.98,132 L105.93,168" fill="none" stroke="#222" stroke-width="17" stroke-linecap="round" stroke-linejoin="round"/><path d="M121.98,132 L105.93,168" fill="none" stroke="#c8c8c8" stroke-width="11" stroke-linecap="round" stroke-linejoin="round"/></g><path d="M28,2 L33,-25 L40,-45 L45,-57 L68,-95" fill="none" stroke="#333" stroke-width="12"/><path d="M50,-62 L72,-62 L86,-48 L90,-36" fill="none" stroke="#333" stroke-width="12"/><path d="M68,-95 L98,-101 L114,-95 L128,-104 L145,-112" fill="none" stroke="#333" stroke-width="12"/><path d="M80,-100 L102,-128 L118,-145 L132,-162" fill="none" stroke="#333" stroke-width="12"/><path d="M72,-100 L90,-135 L104,-155 L112,-171" fill="none" stroke="#333" stroke-width="12"/><path d="M68,-95 L78,-125 L90,-145 L99,-160" fill="none" stroke="#333" stroke-width="12"/><path d="M60,-85 L50,-97 L56,-112 L66,-124" fill="none" stroke="#333" stroke-width="12"/><path d="M28,2 L33,-25 L40,-45 L45,-57 L68,-95" fill="none" stroke="#9a9a9a" stroke-width="6.5"/><path d="M50,-62 L72,-62 L86,-48 L90,-36" fill="none" stroke="#9a9a9a" stroke-width="6.5"/><path d="M68,-95 L98,-101 L114,-95 L128,-104 L145,-112" fill="none" stroke="#9a9a9a" stroke-width="6.5"/><path d="M80,-100 L102,-128 L118,-145 L132,-162" fill="none" stroke="#9a9a9a" stroke-width="6.5"/><path d="M72,-100 L90,-135 L104,-155 L112,-171" fill="none" stroke="#9a9a9a" stroke-width="6.5"/><path d="M68,-95 L78,-125 L90,-145 L99,-160" fill="none" stroke="#9a9a9a" stroke-width="6.5"/><path d="M60,-85 L50,-97 L56,-112 L66,-124" fill="none" stroke="#9a9a9a" stroke-width="6.5"/><path d="M-28,2 L-33,-25 L-40,-45 L-45,-57 L-68,-95" fill="none" stroke="#333" stroke-width="12"/><path d="M-50,-62 L-72,-62 L-86,-48 L-90,-36" fill="none" stroke="#333" stroke-width="12"/><path d="M-68,-95 L-98,-101 L-114,-95 L-128,-104 L-145,-112" fill="none" stroke="#333" stroke-width="12"/><path d="M-80,-100 L-102,-128 L-118,-145 L-132,-162" fill="none" stroke="#333" stroke-width="12"/><path d="M-72,-100 L-90,-135 L-104,-155 L-112,-171" fill="none" stroke="#333" stroke-width="12"/><path d="M-68,-95 L-78,-125 L-90,-145 L-99,-160" fill="none" stroke="#333" stroke-width="12"/><path d="M-60,-85 L-50,-97 L-56,-112 L-66,-124" fill="none" stroke="#333" stroke-width="12"/><path d="M-28,2 L-33,-25 L-40,-45 L-45,-57 L-68,-95" fill="none" stroke="#9a9a9a" stroke-width="6.5"/><path d="M-50,-62 L-72,-62 L-86,-48 L-90,-36" fill="none" stroke="#9a9a9a" stroke-width="6.5"/><path d="M-68,-95 L-98,-101 L-114,-95 L-128,-104 L-145,-112" fill="none" stroke="#9a9a9a" stroke-width="6.5"/><path d="M-80,-100 L-102,-128 L-118,-145 L-132,-162" fill="none" stroke="#9a9a9a" stroke-width="6.5"/><path d="M-72,-100 L-90,-135 L-104,-155 L-112,-171" fill="none" stroke="#9a9a9a" stroke-width="6.5"/><path d="M-68,-95 L-78,-125 L-90,-145 L-99,-160" fill="none" stroke="#9a9a9a" stroke-width="6.5"/><path d="M-60,-85 L-50,-97 L-56,-112 L-66,-124" fill="none" stroke="#9a9a9a" stroke-width="6.5"/><path d="M-30,2 Q0,9 30,2 C35,8 39,14 42,22 C71.65,60 86.65,110 89.65,160 L-87.65,160 C-84.65,110 -69.65,60 -42,22 C-39,14 -35,8 -30,2Z" fill="#bdbdbd" stroke="#333" stroke-width="3"/><ellipse cx="-70" cy="75" rx="37" ry="69" transform="rotate(15 -70 75)" fill="#b3220a" stroke="#5b0f00" stroke-width="3"/><ellipse cx="70" cy="75" rx="37" ry="69" transform="rotate(-15 70 75)" fill="#b3220a" stroke="#5b0f00" stroke-width="3"/><g transform="translate(0 0) translate(0 -5.92) scale(1.04)"><path d="M-85,155 Q-3,138 78,155 C98,170 100,215 92,250 C82,295 62,330 45,348 L30,364 L-28,364 L-42,348 C-65,325 -100,285 -108,235 C-112,200 -105,170 -85,155Z" fill="#999999" stroke="#1a1a1a" stroke-width="3.5"/><path d="M-85,155 Q-3,138 78,155 C98,170 100,215 92,250 C82,295 62,330 45,348 L30,364 L-28,364 L-42,348 C-65,325 -100,285 -108,235 C-112,200 -105,170 -85,155Z" transform="translate(-0.70 35.00) scale(0.86)" fill="#b7b7b7" stroke="#333" stroke-width="3"/></g><g transform="translate(0 6) translate(0 -16.00) scale(1.08)"><path d="M-48,182 Q0,170 52,182 C68,195 72,235 62,265 C50,300 25,322 5,327 C-20,320 -52,295 -63,255 C-70,220 -64,195 -48,182Z" fill="#dedede" stroke="#1a1a1a" stroke-width="3.5"/></g></g></g>
<g clip-path="url(#c4)"><g transform="translate(1047.8 86.0) scale(0.28986)" stroke-linejoin="round" stroke-linecap="round"><g transform="translate(0 0)"><path d="M-181,-37 L-152,72 L-142,74 Z" fill="#d9d9d9" stroke="#222" stroke-width="3"/><path d="M-147.0,78 L-130.0,138" fill="none" stroke="#222" stroke-width="15" stroke-linecap="round" stroke-linejoin="round"/><path d="M-147.0,78 L-130.0,138" fill="none" stroke="#8c8c8c" stroke-width="9" stroke-linecap="round" stroke-linejoin="round"/><path d="M-127.0,146 L-92.0,186" fill="none" stroke="#222" stroke-width="17" stroke-linecap="round" stroke-linejoin="round"/><path d="M-127.0,146 L-92.0,186" fill="none" stroke="#b0b0b0" stroke-width="11" stroke-linecap="round" stroke-linejoin="round"/><path d="M166,-37 L137,68 L127,66 Z" fill="#e6e6e6" stroke="#222" stroke-width="3"/><path d="M131.0,74 L117.0,124" fill="none" stroke="#222" stroke-width="15" stroke-linecap="round" stroke-linejoin="round"/><path d="M131.0,74 L117.0,124" fill="none" stroke="#f0f0f0" stroke-width="9" stroke-linecap="round" stroke-linejoin="round"/><path d="M114.0,132 L99.0,168" fill="none" stroke="#222" stroke-width="17" stroke-linecap="round" stroke-linejoin="round"/><path d="M114.0,132 L99.0,168" fill="none" stroke="#c8c8c8" stroke-width="11" stroke-linecap="round" stroke-linejoin="round"/></g><path d="M-28,3 L-40,-8 L-56,-17" fill="none" stroke="#333" stroke-width="9" stroke-linecap="round" stroke-linejoin="round"/><path d="M-28,3 L-40,-8 L-56,-17" fill="none" stroke="#a8a8a8" stroke-width="4.5" stroke-linecap="round" stroke-linejoin="round"/><path d="M-54,-17 L-80,-24 L-108,-32 M-62,-19 L-70,-38 M-74,-22 L-86,-40 M-86,-25 L-100,-40 M-66,-20 L-82,-10 M-80,-24 L-98,-16" fill="none" stroke="#2e2417" stroke-width="4"/><path d="M28,3 L40,-8 L56,-17" fill="none" stroke="#333" stroke-width="9" stroke-linecap="round" stroke-linejoin="round"/><path d="M28,3 L40,-8 L56,-17" fill="none" stroke="#a8a8a8" stroke-width="4.5" stroke-linecap="round" stroke-linejoin="round"/><path d="M54,-17 L80,-24 L108,-32 M62,-19 L70,-38 M74,-22 L86,-40 M86,-25 L100,-40 M66,-20 L82,-10 M80,-24 L98,-16" fill="none" stroke="#2e2417" stroke-width="4"/><path d="M-29,2 Q0,9 29,2 C34,8 38,14 41,22 C62.400000000000006,60 77.4,110 80.4,160 L-78.4,160 C-75.4,110 -60.400000000000006,60 -41,22 C-38,14 -34,8 -29,2Z" fill="#bdbdbd" stroke="#333" stroke-width="3"/><ellipse cx="-63" cy="81" rx="32" ry="72" transform="rotate(15 -63 81)" fill="#b3220a" stroke="#5b0f00" stroke-width="3"/><ellipse cx="63" cy="81" rx="32" ry="72" transform="rotate(-15 63 81)" fill="#b3220a" stroke="#5b0f00" stroke-width="3"/><g transform="translate(3 0) translate(0 0.00) scale(1.0)"><path d="M-70,157 Q0,140 76,157 C102,175 109,225 103,275 C97,325 82,365 70,400 L-66,400 C-82,360 -100,320 -103,270 C-105,215 -94,175 -70,157Z" fill="#999999" stroke="#1a1a1a" stroke-width="3.5"/><path d="M-70,157 Q0,140 76,157 C102,175 109,225 103,275 C97,325 82,365 70,400 L-66,400 C-82,360 -100,320 -103,270 C-105,215 -94,175 -70,157Z" transform="translate(0 38.50) scale(0.86)" fill="#b7b7b7" stroke="#333" stroke-width="3"/><path d="M-70,157 Q0,140 76,157 C102,175 109,225 103,275 C97,325 82,365 70,400 L-66,400 C-82,360 -100,320 -103,270 C-105,215 -94,175 -70,157Z" transform="translate(0 74.25) scale(0.73)" fill="#cccccc" stroke="#333" stroke-width="3"/></g><g transform="translate(3 0) translate(0 0.00) scale(1.0)"><path d="M-18,207 Q17,200 52,210 C67,225 69,255 65,285 C59,315 39,340 17,347 C-13,340 -38,315 -43,275 C-45,240 -38,217 -18,207Z" fill="#efefef" stroke="#1a1a1a" stroke-width="3.5"/></g></g></g>
<g clip-path="url(#c7)"><g transform="translate(1389.8 86.0) scale(0.28986)" stroke-linejoin="round" stroke-linecap="round"><g transform="translate(0 0)"><path d="M-181,-37 L-152,72 L-142,74 Z" fill="#d9d9d9" stroke="#222" stroke-width="3"/><path d="M-147.0,78 L-130.0,138" fill="none" stroke="#222" stroke-width="15" stroke-linecap="round" stroke-linejoin="round"/><path d="M-147.0,78 L-130.0,138" fill="none" stroke="#8c8c8c" stroke-width="9" stroke-linecap="round" stroke-linejoin="round"/><path d="M-127.0,146 L-92.0,186" fill="none" stroke="#222" stroke-width="17" stroke-linecap="round" stroke-linejoin="round"/><path d="M-127.0,146 L-92.0,186" fill="none" stroke="#b0b0b0" stroke-width="11" stroke-linecap="round" stroke-linejoin="round"/><path d="M166,-37 L137,68 L127,66 Z" fill="#e6e6e6" stroke="#222" stroke-width="3"/><path d="M131.0,74 L117.0,124" fill="none" stroke="#222" stroke-width="15" stroke-linecap="round" stroke-linejoin="round"/><path d="M131.0,74 L117.0,124" fill="none" stroke="#f0f0f0" stroke-width="9" stroke-linecap="round" stroke-linejoin="round"/><path d="M114.0,132 L99.0,168" fill="none" stroke="#222" stroke-width="17" stroke-linecap="round" stroke-linejoin="round"/><path d="M114.0,132 L99.0,168" fill="none" stroke="#c8c8c8" stroke-width="11" stroke-linecap="round" stroke-linejoin="round"/></g><path d="M-28,3 L-40,-8 L-56,-17" fill="none" stroke="#333" stroke-width="9" stroke-linecap="round" stroke-linejoin="round"/><path d="M-28,3 L-40,-8 L-56,-17" fill="none" stroke="#a8a8a8" stroke-width="4.5" stroke-linecap="round" stroke-linejoin="round"/><path d="M-54,-17 L-80,-24 L-108,-32 M-62,-19 L-70,-38 M-74,-22 L-86,-40 M-86,-25 L-100,-40 M-66,-20 L-82,-10 M-80,-24 L-98,-16" fill="none" stroke="#2e2417" stroke-width="4"/><path d="M28,3 L40,-8 L56,-17" fill="none" stroke="#333" stroke-width="9" stroke-linecap="round" stroke-linejoin="round"/><path d="M28,3 L40,-8 L56,-17" fill="none" stroke="#a8a8a8" stroke-width="4.5" stroke-linecap="round" stroke-linejoin="round"/><path d="M54,-17 L80,-24 L108,-32 M62,-19 L70,-38 M74,-22 L86,-40 M86,-25 L100,-40 M66,-20 L82,-10 M80,-24 L98,-16" fill="none" stroke="#2e2417" stroke-width="4"/><path d="M-29,2 Q0,9 29,2 C34,8 38,14 41,22 C62.400000000000006,60 77.4,110 80.4,160 L-78.4,160 C-75.4,110 -60.400000000000006,60 -41,22 C-38,14 -34,8 -29,2Z" fill="#bdbdbd" stroke="#333" stroke-width="3"/><ellipse cx="-63" cy="81" rx="32" ry="72" transform="rotate(15 -63 81)" fill="#b3220a" stroke="#5b0f00" stroke-width="3"/><ellipse cx="63" cy="81" rx="32" ry="72" transform="rotate(-15 63 81)" fill="#b3220a" stroke="#5b0f00" stroke-width="3"/><g transform="translate(3 0) translate(0 0.00) scale(1.0)"><path d="M-70,157 Q0,140 76,157 C102,175 109,225 103,275 C97,325 82,365 70,400 L-66,400 C-82,360 -100,320 -103,270 C-105,215 -94,175 -70,157Z" fill="#999999" stroke="#1a1a1a" stroke-width="3.5"/><path d="M-70,157 Q0,140 76,157 C102,175 109,225 103,275 C97,325 82,365 70,400 L-66,400 C-82,360 -100,320 -103,270 C-105,215 -94,175 -70,157Z" transform="translate(0 38.50) scale(0.86)" fill="#b7b7b7" stroke="#333" stroke-width="3"/><path d="M-70,157 Q0,140 76,157 C102,175 109,225 103,275 C97,325 82,365 70,400 L-66,400 C-82,360 -100,320 -103,270 C-105,215 -94,175 -70,157Z" transform="translate(0 74.25) scale(0.73)" fill="#cccccc" stroke="#333" stroke-width="3"/></g><g transform="translate(3 0) translate(0 0.00) scale(1.0)"><path d="M-18,207 Q17,200 52,210 C67,225 69,255 65,285 C59,315 39,340 17,347 C-13,340 -38,315 -43,275 C-45,240 -38,217 -18,207Z" fill="#efefef" stroke="#1a1a1a" stroke-width="3.5"/></g></g></g>
<g clip-path="url(#c8)"><g transform="translate(578.87 501.7) scale(0.28986)" stroke-linejoin="round" stroke-linecap="round"><g transform="translate(0 -13)"><path d="M-194,-37 L-163,72 L-152,74 Z" fill="#d9d9d9" stroke="#222" stroke-width="3"/><path d="M-157.29000000000002,78 L-139.1,138" fill="none" stroke="#222" stroke-width="15" stroke-linecap="round" stroke-linejoin="round"/><path d="M-157.29000000000002,78 L-139.1,138" fill="none" stroke="#8c8c8c" stroke-width="9" stroke-linecap="round" stroke-linejoin="round"/><path d="M-135.89000000000001,146 L-98.44000000000001,186" fill="none" stroke="#222" stroke-width="17" stroke-linecap="round" stroke-linejoin="round"/><path d="M-135.89000000000001,146 L-98.44000000000001,186" fill="none" stroke="#b0b0b0" stroke-width="11" stroke-linecap="round" stroke-linejoin="round"/><path d="M178,-37 L147,68 L136,66 Z" fill="#e6e6e6" stroke="#222" stroke-width="3"/><path d="M140.17000000000002,74 L125.19000000000001,124" fill="none" stroke="#222" stroke-width="15" stroke-linecap="round" stroke-linejoin="round"/><path d="M140.17000000000002,74 L125.19000000000001,124" fill="none" stroke="#f0f0f0" stroke-width="9" stroke-linecap="round" stroke-linejoin="round"/><path d="M121.98,132 L105.93,168" fill="none" stroke="#222" stroke-width="17" stroke-linecap="round" stroke-linejoin="round"/><path d="M121.98,132 L105.93,168" fill="none" stroke="#c8c8c8" stroke-width="11" stroke-linecap="round" stroke-linejoin="round"/></g><path d="M-29,3 L-40,-13 L-49,-28" fill="none" stroke="#333" stroke-width="10" stroke-linecap="round" stroke-linejoin="round"/><path d="M-29,3 L-40,-13 L-49,-28" fill="none" stroke="#a8a8a8" stroke-width="5" stroke-linecap="round" stroke-linejoin="round"/><path d="M-47,-28 L-81,-44 L-115,-60 M-55,-32 L-61,-52 M-67,-38 L-79,-62 M-81,-44 L-97,-70 M-95,-51 L-113,-74 M-59,-34 L-77,-24 M-73,-40 L-97,-34 M-89,-48 L-115,-44 M-51,-30 L-61,-14" fill="none" stroke="#1a140c" stroke-width="5"/><path d="M29,3 L40,-13 L49,-28" fill="none" stroke="#333" stroke-width="10" stroke-linecap="round" stroke-linejoin="round"/><path d="M29,3 L40,-13 L49,-28" fill="none" stroke="#a8a8a8" stroke-width="5" stroke-linecap="round" stroke-linejoin="round"/><path d="M47,-28 L81,-44 L115,-60 M55,-32 L61,-52 M67,-38 L79,-62 M81,-44 L97,-70 M95,-51 L113,-74 M59,-34 L77,-24 M73,-40 L97,-34 M89,-48 L115,-44 M51,-30 L61,-14" fill="none" stroke="#1a140c" stroke-width="5"/><path d="M-30,2 Q0,9 30,2 C35,8 39,14 42,22 C71.65,60 86.65,110 89.65,160 L-87.65,160 C-84.65,110 -69.65,60 -42,22 C-39,14 -35,8 -30,2Z" fill="#bdbdbd" stroke="#333" stroke-width="3"/><ellipse cx="-70" cy="75" rx="37" ry="69" transform="rotate(15 -70 75)" fill="#b3220a" stroke="#5b0f00" stroke-width="3"/><ellipse cx="70" cy="75" rx="37" ry="69" transform="rotate(-15 70 75)" fill="#b3220a" stroke="#5b0f00" stroke-width="3"/><g transform="translate(0 0) translate(0 0.00) scale(1.0)"><path d="M-85,155 Q-3,138 78,155 C98,170 100,215 92,250 C82,295 62,330 45,348 L30,364 L-28,364 L-42,348 C-65,325 -100,285 -108,235 C-112,200 -105,170 -85,155Z" fill="#999999" stroke="#1a1a1a" stroke-width="3.5"/><path d="M-85,155 Q-3,138 78,155 C98,170 100,215 92,250 C82,295 62,330 45,348 L30,364 L-28,364 L-42,348 C-65,325 -100,285 -108,235 C-112,200 -105,170 -85,155Z" transform="translate(-0.70 35.00) scale(0.86)" fill="#b7b7b7" stroke="#333" stroke-width="3"/></g><g transform="translate(0 0) translate(0 0.00) scale(1.0)"><path d="M-48,182 Q0,170 52,182 C68,195 72,235 62,265 C50,300 25,322 5,327 C-20,320 -52,295 -63,255 C-70,220 -64,195 -48,182Z" fill="#dedede" stroke="#1a1a1a" stroke-width="3.5"/></g></g></g>
<g clip-path="url(#c12)"><g transform="translate(1032.3 499.2) scale(0.28986)" stroke-linejoin="round" stroke-linecap="round"><g transform="translate(0 -10)"><path d="M-181,-37 L-152,72 L-142,74 Z" fill="#d9d9d9" stroke="#222" stroke-width="3"/><path d="M-147.0,78 L-130.0,138" fill="none" stroke="#222" stroke-width="15" stroke-linecap="round" stroke-linejoin="round"/><path d="M-147.0,78 L-130.0,138" fill="none" stroke="#8c8c8c" stroke-width="9" stroke-linecap="round" stroke-linejoin="round"/><path d="M-127.0,146 L-92.0,186" fill="none" stroke="#222" stroke-width="17" stroke-linecap="round" stroke-linejoin="round"/><path d="M-127.0,146 L-92.0,186" fill="none" stroke="#b0b0b0" stroke-width="11" stroke-linecap="round" stroke-linejoin="round"/><path d="M166,-37 L137,68 L127,66 Z" fill="#e6e6e6" stroke="#222" stroke-width="3"/><path d="M131.0,74 L117.0,124" fill="none" stroke="#222" stroke-width="15" stroke-linecap="round" stroke-linejoin="round"/><path d="M131.0,74 L117.0,124" fill="none" stroke="#f0f0f0" stroke-width="9" stroke-linecap="round" stroke-linejoin="round"/><path d="M114.0,132 L99.0,168" fill="none" stroke="#222" stroke-width="17" stroke-linecap="round" stroke-linejoin="round"/><path d="M114.0,132 L99.0,168" fill="none" stroke="#c8c8c8" stroke-width="11" stroke-linecap="round" stroke-linejoin="round"/></g><path d="M-27,3 L-39,-8 L-55,-17" fill="none" stroke="#333" stroke-width="9" stroke-linecap="round" stroke-linejoin="round"/><path d="M-27,3 L-39,-8 L-55,-17" fill="none" stroke="#a8a8a8" stroke-width="4.5" stroke-linecap="round" stroke-linejoin="round"/><path d="M-53,-17 L-79,-24 L-107,-32 M-61,-19 L-69,-38 M-73,-22 L-85,-40 M-85,-25 L-99,-40 M-65,-20 L-81,-10 M-79,-24 L-97,-16" fill="none" stroke="#2e2417" stroke-width="4"/><path d="M27,3 L39,-8 L55,-17" fill="none" stroke="#333" stroke-width="9" stroke-linecap="round" stroke-linejoin="round"/><path d="M27,3 L39,-8 L55,-17" fill="none" stroke="#a8a8a8" stroke-width="4.5" stroke-linecap="round" stroke-linejoin="round"/><path d="M53,-17 L79,-24 L107,-32 M61,-19 L69,-38 M73,-22 L85,-40 M85,-25 L99,-40 M65,-20 L81,-10 M79,-24 L97,-16" fill="none" stroke="#2e2417" stroke-width="4"/><path d="M-28,2 Q0,9 28,2 C33,8 37,14 40,22 C66.3,60 81.3,110 84.3,160 L-82.3,160 C-79.3,110 -64.3,60 -40,22 C-37,14 -33,8 -28,2Z" fill="#bdbdbd" stroke="#333" stroke-width="3"/><ellipse cx="-66" cy="75" rx="34" ry="67" transform="rotate(15 -66 75)" fill="#4a2fa8" stroke="#20124d" stroke-width="3"/><ellipse cx="66" cy="75" rx="34" ry="67" transform="rotate(-15 66 75)" fill="#4a2fa8" stroke="#20124d" stroke-width="3"/><g transform="translate(3 -8) translate(0 8.88) scale(0.94)"><path d="M-70,157 Q0,140 76,157 C102,175 109,225 103,265 C97,305 80,345 64,400 L-64,400 C-78,350 -100,310 -103,265 C-105,215 -94,175 -70,157Z" fill="#999999" stroke="#1a1a1a" stroke-width="3.5"/></g><g transform="translate(4 -12) translate(0 0.00) scale(1.0)"><path d="M-48,182 Q0,170 52,182 C68,195 72,235 62,265 C50,300 25,322 5,327 C-20,320 -52,295 -63,255 C-70,220 -64,195 -48,182Z" transform="translate(0 -52.50) scale(1.21)" fill="#b7b7b7" stroke="#333" stroke-width="2.6"/><path d="M-48,182 Q0,170 52,182 C68,195 72,235 62,265 C50,300 25,322 5,327 C-20,320 -52,295 -63,255 C-70,220 -64,195 -48,182Z" fill="#dcdcdc" stroke="#1a1a1a" stroke-width="3.5"/></g></g></g>
<g clip-path="url(#c15)"><g transform="translate(1377.8 495.7) scale(0.28986)" stroke-linejoin="round" stroke-linecap="round"><g transform="translate(0 -20)"><path d="M-181,-37 L-152,72 L-142,74 Z" fill="#d9d9d9" stroke="#222" stroke-width="3"/><path d="M-147.0,78 L-130.0,138" fill="none" stroke="#222" stroke-width="15" stroke-linecap="round" stroke-linejoin="round"/><path d="M-147.0,78 L-130.0,138" fill="none" stroke="#8c8c8c" stroke-width="9" stroke-linecap="round" stroke-linejoin="round"/><path d="M-127.0,146 L-92.0,186" fill="none" stroke="#222" stroke-width="17" stroke-linecap="round" stroke-linejoin="round"/><path d="M-127.0,146 L-92.0,186" fill="none" stroke="#b0b0b0" stroke-width="11" stroke-linecap="round" stroke-linejoin="round"/><path d="M166,-37 L137,68 L127,66 Z" fill="#e6e6e6" stroke="#222" stroke-width="3"/><path d="M131.0,74 L117.0,124" fill="none" stroke="#222" stroke-width="15" stroke-linecap="round" stroke-linejoin="round"/><path d="M131.0,74 L117.0,124" fill="none" stroke="#f0f0f0" stroke-width="9" stroke-linecap="round" stroke-linejoin="round"/><path d="M114.0,132 L99.0,168" fill="none" stroke="#222" stroke-width="17" stroke-linecap="round" stroke-linejoin="round"/><path d="M114.0,132 L99.0,168" fill="none" stroke="#c8c8c8" stroke-width="11" stroke-linecap="round" stroke-linejoin="round"/></g><path d="M-27,3 L-39,-8 L-55,-17" fill="none" stroke="#333" stroke-width="9" stroke-linecap="round" stroke-linejoin="round"/><path d="M-27,3 L-39,-8 L-55,-17" fill="none" stroke="#a8a8a8" stroke-width="4.5" stroke-linecap="round" stroke-linejoin="round"/><path d="M-53,-17 L-79,-24 L-107,-32 M-61,-19 L-69,-38 M-73,-22 L-85,-40 M-85,-25 L-99,-40 M-65,-20 L-81,-10 M-79,-24 L-97,-16" fill="none" stroke="#2e2417" stroke-width="4"/><path d="M27,3 L39,-8 L55,-17" fill="none" stroke="#333" stroke-width="9" stroke-linecap="round" stroke-linejoin="round"/><path d="M27,3 L39,-8 L55,-17" fill="none" stroke="#a8a8a8" stroke-width="4.5" stroke-linecap="round" stroke-linejoin="round"/><path d="M53,-17 L79,-24 L107,-32 M61,-19 L69,-38 M73,-22 L85,-40 M85,-25 L99,-40 M65,-20 L81,-10 M79,-24 L97,-16" fill="none" stroke="#2e2417" stroke-width="4"/><path d="M-28,2 Q0,9 28,2 C33,8 37,14 40,22 C65.3,60 80.3,110 83.3,160 L-81.3,160 C-78.3,110 -63.3,60 -40,22 C-37,14 -33,8 -28,2Z" fill="#bdbdbd" stroke="#333" stroke-width="3"/><ellipse cx="-65" cy="76" rx="34" ry="67" transform="rotate(15 -65 76)" fill="#7f6000" stroke="#3d2e00" stroke-width="3"/><ellipse cx="65" cy="76" rx="34" ry="67" transform="rotate(-15 65 76)" fill="#7f6000" stroke="#3d2e00" stroke-width="3"/><g transform="translate(1 -11) translate(0 7.40) scale(0.95)"><path d="M-70,157 Q0,140 76,157 C102,175 109,225 103,265 C97,305 80,345 64,400 L-64,400 C-78,350 -100,310 -103,265 C-105,215 -94,175 -70,157Z" fill="#999999" stroke="#1a1a1a" stroke-width="3.5"/></g><g transform="translate(0 -3) translate(0 0.00) scale(1.0)"><path d="M-48,182 Q0,170 52,182 C68,195 72,235 62,265 C50,300 25,322 5,327 C-20,320 -52,295 -63,255 C-70,220 -64,195 -48,182Z" transform="translate(0 -52.50) scale(1.21)" fill="#b7b7b7" stroke="#333" stroke-width="2.6"/><path d="M-48,182 Q0,170 52,182 C68,195 72,235 62,265 C50,300 25,322 5,327 C-20,320 -52,295 -63,255 C-70,220 -64,195 -48,182Z" fill="#dcdcdc" stroke="#1a1a1a" stroke-width="3.5"/></g></g></g>
</svg></body></html>
